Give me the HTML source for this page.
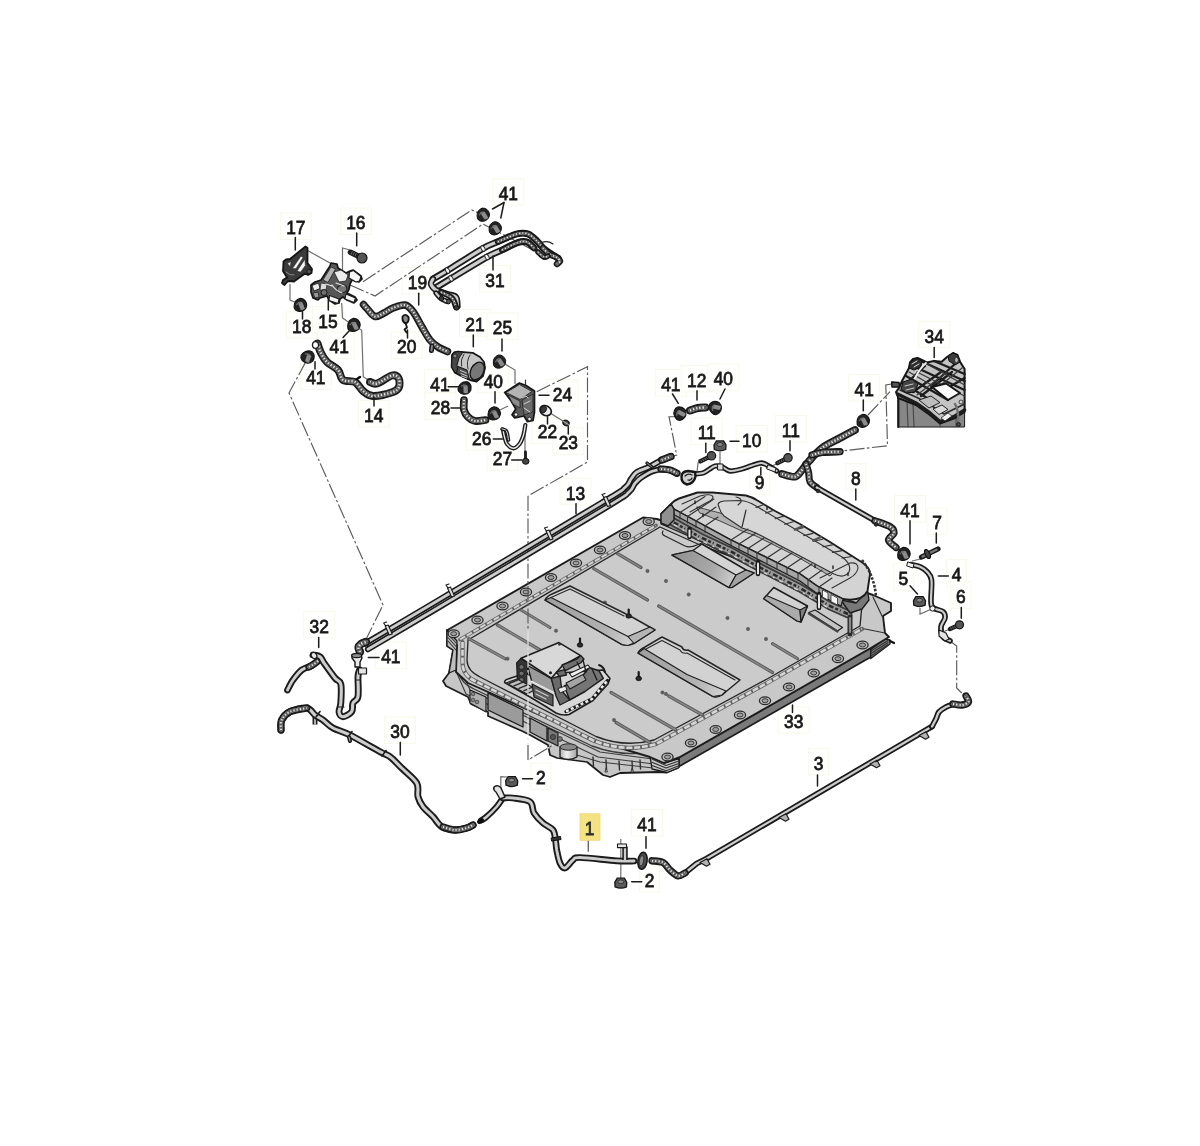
<!DOCTYPE html>
<html lang="en">
<head>
<meta charset="utf-8">
<title>Parts diagram</title>
<style>
html,body{margin:0;padding:0;background:#fff;}
body{width:1200px;height:1146px;overflow:hidden;}
svg{display:block;}
svg text{font-family:"Liberation Sans",sans-serif;font-size:19px;fill:#1a1a1a;stroke:#1a1a1a;stroke-width:0.8;text-anchor:middle;}
.ln{stroke:#222;stroke-width:1.3;fill:none;stroke-linecap:round;}
.dd{stroke:#666;stroke-width:1;fill:none;stroke-dasharray:9 2 2 2;}
.ld{stroke:#777;stroke-width:1;fill:none;}
.lb{fill:#fffffd;stroke:#f9f8ec;stroke-width:1;}
.ho{stroke:#1c1c1c;fill:none;stroke-linecap:round;stroke-linejoin:round;}
.hi{stroke:#d8d8d8;fill:none;stroke-linecap:round;stroke-linejoin:round;}
.hr{stroke:#555;fill:none;stroke-linecap:butt;stroke-linejoin:round;stroke-dasharray:1 1.6;}
</style>
</head>
<body>
<svg width="1200" height="1146" viewBox="0 0 1200 1146">
<rect width="1200" height="1146" fill="#ffffff"/>
<g filter="url(#soft)">
<!-- 05_labelbg.svg -->
<g id="labelbg">
<rect class="lb" x="492.8" y="178.8" width="31" height="26.5"/>
<rect class="lb" x="280.3" y="213.0" width="31" height="26.5"/>
<rect class="lb" x="340.3" y="208.0" width="31" height="26.5"/>
<rect class="lb" x="479.5" y="265.5" width="31" height="26.5"/>
<rect class="lb" x="402.0" y="267.6" width="31" height="26.5"/>
<rect class="lb" x="286.2" y="311.8" width="31" height="26.5"/>
<rect class="lb" x="312.5" y="306.3" width="31" height="26.5"/>
<rect class="lb" x="323.7" y="332.1" width="31" height="26.5"/>
<rect class="lb" x="391.2" y="332.1" width="31" height="26.5"/>
<rect class="lb" x="459.5" y="309.6" width="31" height="26.5"/>
<rect class="lb" x="487.0" y="313.0" width="31" height="26.5"/>
<rect class="lb" x="300.3" y="363.0" width="31" height="26.5"/>
<rect class="lb" x="358.2" y="400.5" width="31" height="26.5"/>
<rect class="lb" x="424.5" y="369.3" width="31" height="26.5"/>
<rect class="lb" x="477.8" y="366.3" width="31" height="26.5"/>
<rect class="lb" x="547.0" y="379.6" width="31" height="26.5"/>
<rect class="lb" x="425.0" y="392.8" width="31" height="26.5"/>
<rect class="lb" x="532.0" y="417.1" width="31" height="26.5"/>
<rect class="lb" x="552.8" y="427.8" width="31" height="26.5"/>
<rect class="lb" x="466.2" y="423.8" width="31" height="26.5"/>
<rect class="lb" x="487.0" y="443.8" width="31" height="26.5"/>
<rect class="lb" x="655.3" y="369.6" width="31" height="26.5"/>
<rect class="lb" x="681.2" y="365.5" width="31" height="26.5"/>
<rect class="lb" x="707.8" y="363.8" width="31" height="26.5"/>
<rect class="lb" x="848.7" y="374.6" width="31" height="26.5"/>
<rect class="lb" x="918.7" y="321.3" width="31" height="26.5"/>
<rect class="lb" x="691.2" y="418.0" width="31" height="26.5"/>
<rect class="lb" x="736.2" y="425.5" width="31" height="26.5"/>
<rect class="lb" x="775.3" y="415.5" width="31" height="26.5"/>
<rect class="lb" x="749.7" y="468.0" width="20" height="26.5"/>
<rect class="lb" x="845.8" y="463.5" width="20" height="26.5"/>
<rect class="lb" x="560.0" y="478.3" width="31" height="26.5"/>
<rect class="lb" x="894.5" y="495.5" width="31" height="26.5"/>
<rect class="lb" x="927.0" y="508.0" width="20" height="26.5"/>
<rect class="lb" x="946.7" y="559.6" width="20" height="26.5"/>
<rect class="lb" x="893.3" y="563.8" width="20" height="26.5"/>
<rect class="lb" x="950.8" y="581.8" width="20" height="26.5"/>
<rect class="lb" x="303.7" y="611.3" width="31" height="26.5"/>
<rect class="lb" x="375.3" y="642.1" width="31" height="26.5"/>
<rect class="lb" x="778.2" y="706.8" width="31" height="26.5"/>
<rect class="lb" x="384.5" y="717.1" width="31" height="26.5"/>
<rect class="lb" x="808.7" y="748.3" width="20" height="26.5"/>
<rect class="lb" x="530.8" y="763.0" width="20" height="26.5"/>
<rect class="lb" x="631.5" y="809.6" width="31" height="26.5"/>
<rect class="lb" x="639.7" y="865.5" width="20" height="26.5"/>
<rect x="580" y="813.8" width="20" height="26.5" fill="#f5e283" stroke="#efd97a" stroke-width="0.8"/>
</g>
<!-- 10_battery.svg -->
<defs>
<linearGradient id="gRamp" x1="0" y1="0" x2="1" y2="0"><stop offset="0" stop-color="#8c8c8c"/><stop offset="1" stop-color="#c4c4c4"/></linearGradient>
<linearGradient id="gRampR" x1="0" y1="0" x2="1" y2="0"><stop offset="0" stop-color="#c0c0c0"/><stop offset="1" stop-color="#8c8c8c"/></linearGradient>
<linearGradient id="gCyl" x1="0" y1="0" x2="1" y2="0"><stop offset="0" stop-color="#b0b0b0"/><stop offset="0.4" stop-color="#f0f0f0"/><stop offset="1" stop-color="#a0a0a0"/></linearGradient>
</defs>
<g id="battery">
<polygon points="447.0,630.0 447.0,646.0 453.0,650.0 449.0,673.0 443.0,681.0 446.0,686.0 468.0,697.0 471.0,704.0 488.0,712.0 488.0,716.0 522.0,731.0 530.0,735.0 548.0,745.0 550.0,755.0 557.0,758.0 587.0,762.0 603.0,775.0 610.0,777.0 620.0,773.0 658.0,772.0 667.0,772.5 678.0,768.0 678.0,758.0 663.0,756.0 600.0,700.0 470.0,640.0" fill="#c6c6c6" stroke="#1e1e1e" stroke-width="1.7550000000000001" stroke-linejoin="round" />
<path d="M455,655 L470,690 L600,752 L660,760" fill="none" stroke="#3c3c3c" stroke-width="1.08" stroke-linejoin="round" stroke-linecap="round" />
<path d="M452,662 L466,694 L598,757 L662,765" fill="none" stroke="#3c3c3c" stroke-width="1.08" stroke-linejoin="round" stroke-linecap="round" />
<path d="M560,750 L600,762 L662,769" fill="none" stroke="#3c3c3c" stroke-width="1.08" stroke-linejoin="round" stroke-linecap="round" />
<path d="M458,672 Q462,684 474,689 L592,746 Q622,757 650,752" fill="none" stroke="#3c3c3c" stroke-width="1.35" stroke-linejoin="round" stroke-linecap="round" />
<polygon points="488.0,693.0 523.0,710.0 523.0,727.0 488.0,710.0" fill="#9b9b9b" stroke="#1e1e1e" stroke-width="1.35" stroke-linejoin="round" />
<polygon points="530.0,718.0 547.0,727.0 547.0,741.0 530.0,732.0" fill="#a0a0a0" stroke="#1e1e1e" stroke-width="1.35" stroke-linejoin="round" />
<polygon points="470.0,690.0 486.0,697.0 486.0,712.0 470.0,703.0" fill="#b0b0b0" stroke="#1e1e1e" stroke-width="1.215" stroke-linejoin="round" />
<circle cx="473.0" cy="694.0" r="1.8" fill="#888" stroke="#333" stroke-width="0.7"/>
<circle cx="473.0" cy="700.0" r="1.8" fill="#888" stroke="#333" stroke-width="0.7"/>
<circle cx="477.0" cy="702.0" r="1.8" fill="#888" stroke="#333" stroke-width="0.7"/>
<polygon points="548.0,728.0 558.0,733.0 558.0,746.0 548.0,741.0" fill="#7a7a7a" stroke="#1e1e1e" stroke-width="1.215" stroke-linejoin="round" />
<circle cx="553" cy="737" r="2.6" fill="#555" stroke="#222" stroke-width="0.7"/>
<circle cx="560" cy="739" r="2.4" fill="#777" stroke="#222" stroke-width="0.7"/>
<path d="M560,747 L560,757 Q568,762 577,757 L577,747 Z" fill="url(#gCyl)" stroke="#1e1e1e" stroke-width="1.35" stroke-linejoin="round" stroke-linecap="round" />
<ellipse cx="568.5" cy="747" rx="8.5" ry="3.2" fill="#8a8a8a" stroke="#2a2a2a" stroke-width="1"/>
<line x1="593.0" y1="757.0" x2="593.5" y2="766.0" stroke="#333" stroke-width="1.4300000000000002" stroke-linecap="round" />
<line x1="606.0" y1="760.0" x2="606.5" y2="769.0" stroke="#333" stroke-width="1.4300000000000002" stroke-linecap="round" />
<line x1="619.0" y1="761.0" x2="619.5" y2="770.0" stroke="#333" stroke-width="1.4300000000000002" stroke-linecap="round" />
<line x1="632.0" y1="761.0" x2="632.5" y2="770.0" stroke="#333" stroke-width="1.4300000000000002" stroke-linecap="round" />
<line x1="640.0" y1="760.0" x2="640.5" y2="769.0" stroke="#333" stroke-width="1.4300000000000002" stroke-linecap="round" />
<path d="M606.0,768.0 l-1,4 l2,0 z" fill="#ddd" stroke="#333" stroke-width="0.945" stroke-linejoin="round" stroke-linecap="round" />
<path d="M632.0,768.0 l-1,4 l2,0 z" fill="#ddd" stroke="#333" stroke-width="0.945" stroke-linejoin="round" stroke-linecap="round" />
<polygon points="679.0,757.5 870.8,648.0 870.8,657.0 679.0,766.5" fill="#7a7a7a" stroke="#1e1e1e" stroke-width="1.7550000000000001" stroke-linejoin="round" />
<polygon points="650.0,756.0 664.0,763.0 679.0,758.5 679.0,767.5 667.0,772.5 652.0,769.0" fill="#c4c4c4" stroke="#1e1e1e" stroke-width="1.35" stroke-linejoin="round" />
<path d="M652,759.0 L666,765.5 L679,761.0" fill="none" stroke="#333" stroke-width="1.08" stroke-linejoin="round" stroke-linecap="round" />
<path d="M652,762.2 L666,768.1 L679,763.4" fill="none" stroke="#333" stroke-width="1.08" stroke-linejoin="round" stroke-linecap="round" />
<path d="M652,765.4 L666,770.7 L679,765.8" fill="none" stroke="#333" stroke-width="1.08" stroke-linejoin="round" stroke-linecap="round" />
<polygon points="870.8,649.5 885.0,639.0 890.0,640.0 890.0,644.0 870.8,658.5" fill="#7f7f7f" stroke="#1e1e1e" stroke-width="1.35" stroke-linejoin="round" />
<line x1="871.0" y1="651.0" x2="888.0" y2="640.5" stroke="#333" stroke-width="1.04" stroke-linecap="round" />
<line x1="871.0" y1="653.5" x2="888.0" y2="642.5" stroke="#333" stroke-width="1.04" stroke-linecap="round" />
<line x1="871.0" y1="656.0" x2="888.0" y2="644.5" stroke="#333" stroke-width="1.04" stroke-linecap="round" />
<path d="M890,641 l4,2" fill="none" stroke="#111" stroke-width="2.2" stroke-linejoin="round" stroke-linecap="round" />
<polygon points="447.5,630.0 643.0,517.5 657.0,519.0 760.0,556.0 873.0,595.0 891.0,603.0 891.0,611.0 883.0,616.0 885.0,633.0 889.0,637.0 870.8,648.0 679.0,757.5 664.0,763.0 650.0,757.0 600.0,742.0 468.0,683.0 456.0,672.0 457.0,645.0" fill="#c8c8c8" stroke="#1e1e1e" stroke-width="1.89" stroke-linejoin="round" />
<path d="M873,597 L882,616 M860,628 L885,633" fill="none" stroke="#333" stroke-width="1.215" stroke-linejoin="round" stroke-linecap="round" />
<polygon points="447.0,630.0 457.0,641.0 456.0,670.0 449.0,673.0 453.0,650.0 447.0,646.0" fill="#bdbdbd" stroke="#1e1e1e" stroke-width="1.35" stroke-linejoin="round" />
<line x1="448.0" y1="634.0" x2="456.0" y2="643.0" stroke="#333" stroke-width="1.04" stroke-linecap="round" />
<line x1="448.0" y1="637.5" x2="456.0" y2="646.5" stroke="#333" stroke-width="1.04" stroke-linecap="round" />
<line x1="448.0" y1="641.0" x2="456.0" y2="650.0" stroke="#333" stroke-width="1.04" stroke-linecap="round" />
<path d="M468,640 L660,527 L700,545 L862,605 L860,626 L845,634.5 L768,678.5 L654,740 Q625,748 596,736.5 L481,677.5 Q467,671 467,660 Z" fill="#cbcbcb" stroke="#262626" stroke-width="1.35" stroke-linejoin="round" stroke-linecap="round" />
<path d="M462.5,642 L462.5,663 Q462.5,675.5 476,681.5 L594,740.8 Q625,753 656,744 L768,682.5 L845,638.5 L862,629" fill="none" stroke="#626262" stroke-width="4.2" stroke-linejoin="round" stroke-linecap="round" />
<path d="M462.5,642 L462.5,663 Q462.5,675.5 476,681.5 L594,740.8 Q625,753 656,744 L768,682.5 L845,638.5 L862,629" fill="none" stroke="#d6d6d6" stroke-width="2.6" stroke-linejoin="round" stroke-linecap="butt" stroke-dasharray="6 1.8"/>
<path d="M460,639.5 L656,525.5" fill="none" stroke="#626262" stroke-width="3.6" stroke-linejoin="round" stroke-linecap="round" />
<path d="M460,639.5 L656,525.5" fill="none" stroke="#d2d2d2" stroke-width="2.0" stroke-linejoin="round" stroke-linecap="butt" stroke-dasharray="6 1.8"/>
<ellipse cx="453.7" cy="633.7" rx="5.6" ry="3.9" fill="#bcbcbc" stroke="#2c2c2c" stroke-width="1.3"/>
<ellipse cx="453.7" cy="633.7" rx="3.0" ry="2.0" fill="#a0a0a0" stroke="#3a3a3a" stroke-width="1.0"/>
<ellipse cx="477.5" cy="620.0" rx="5.6" ry="3.9" fill="#bcbcbc" stroke="#2c2c2c" stroke-width="1.3"/>
<ellipse cx="477.5" cy="620.0" rx="3.0" ry="2.0" fill="#a0a0a0" stroke="#3a3a3a" stroke-width="1.0"/>
<ellipse cx="502.5" cy="606.0" rx="5.6" ry="3.9" fill="#bcbcbc" stroke="#2c2c2c" stroke-width="1.3"/>
<ellipse cx="502.5" cy="606.0" rx="3.0" ry="2.0" fill="#a0a0a0" stroke="#3a3a3a" stroke-width="1.0"/>
<ellipse cx="526.0" cy="592.0" rx="5.6" ry="3.9" fill="#bcbcbc" stroke="#2c2c2c" stroke-width="1.3"/>
<ellipse cx="526.0" cy="592.0" rx="3.0" ry="2.0" fill="#a0a0a0" stroke="#3a3a3a" stroke-width="1.0"/>
<ellipse cx="551.0" cy="577.5" rx="5.6" ry="3.9" fill="#bcbcbc" stroke="#2c2c2c" stroke-width="1.3"/>
<ellipse cx="551.0" cy="577.5" rx="3.0" ry="2.0" fill="#a0a0a0" stroke="#3a3a3a" stroke-width="1.0"/>
<ellipse cx="576.0" cy="563.0" rx="5.6" ry="3.9" fill="#bcbcbc" stroke="#2c2c2c" stroke-width="1.3"/>
<ellipse cx="576.0" cy="563.0" rx="3.0" ry="2.0" fill="#a0a0a0" stroke="#3a3a3a" stroke-width="1.0"/>
<ellipse cx="600.0" cy="550.0" rx="5.6" ry="3.9" fill="#bcbcbc" stroke="#2c2c2c" stroke-width="1.3"/>
<ellipse cx="600.0" cy="550.0" rx="3.0" ry="2.0" fill="#a0a0a0" stroke="#3a3a3a" stroke-width="1.0"/>
<ellipse cx="625.0" cy="535.5" rx="5.6" ry="3.9" fill="#bcbcbc" stroke="#2c2c2c" stroke-width="1.3"/>
<ellipse cx="625.0" cy="535.5" rx="3.0" ry="2.0" fill="#a0a0a0" stroke="#3a3a3a" stroke-width="1.0"/>
<ellipse cx="648.7" cy="521.5" rx="5.6" ry="3.9" fill="#bcbcbc" stroke="#2c2c2c" stroke-width="1.3"/>
<ellipse cx="648.7" cy="521.5" rx="3.0" ry="2.0" fill="#a0a0a0" stroke="#3a3a3a" stroke-width="1.0"/>
<ellipse cx="667.5" cy="757.0" rx="5.6" ry="3.9" fill="#bcbcbc" stroke="#2c2c2c" stroke-width="1.3"/>
<ellipse cx="667.5" cy="757.0" rx="3.0" ry="2.0" fill="#a0a0a0" stroke="#3a3a3a" stroke-width="1.0"/>
<ellipse cx="691.0" cy="743.0" rx="5.6" ry="3.9" fill="#bcbcbc" stroke="#2c2c2c" stroke-width="1.3"/>
<ellipse cx="691.0" cy="743.0" rx="3.0" ry="2.0" fill="#a0a0a0" stroke="#3a3a3a" stroke-width="1.0"/>
<ellipse cx="715.7" cy="729.5" rx="5.6" ry="3.9" fill="#bcbcbc" stroke="#2c2c2c" stroke-width="1.3"/>
<ellipse cx="715.7" cy="729.5" rx="3.0" ry="2.0" fill="#a0a0a0" stroke="#3a3a3a" stroke-width="1.0"/>
<ellipse cx="740.0" cy="715.0" rx="5.6" ry="3.9" fill="#bcbcbc" stroke="#2c2c2c" stroke-width="1.3"/>
<ellipse cx="740.0" cy="715.0" rx="3.0" ry="2.0" fill="#a0a0a0" stroke="#3a3a3a" stroke-width="1.0"/>
<ellipse cx="765.0" cy="700.7" rx="5.6" ry="3.9" fill="#bcbcbc" stroke="#2c2c2c" stroke-width="1.3"/>
<ellipse cx="765.0" cy="700.7" rx="3.0" ry="2.0" fill="#a0a0a0" stroke="#3a3a3a" stroke-width="1.0"/>
<ellipse cx="789.0" cy="687.0" rx="5.6" ry="3.9" fill="#bcbcbc" stroke="#2c2c2c" stroke-width="1.3"/>
<ellipse cx="789.0" cy="687.0" rx="3.0" ry="2.0" fill="#a0a0a0" stroke="#3a3a3a" stroke-width="1.0"/>
<ellipse cx="813.7" cy="673.0" rx="5.6" ry="3.9" fill="#bcbcbc" stroke="#2c2c2c" stroke-width="1.3"/>
<ellipse cx="813.7" cy="673.0" rx="3.0" ry="2.0" fill="#a0a0a0" stroke="#3a3a3a" stroke-width="1.0"/>
<ellipse cx="838.0" cy="658.7" rx="5.6" ry="3.9" fill="#bcbcbc" stroke="#2c2c2c" stroke-width="1.3"/>
<ellipse cx="838.0" cy="658.7" rx="3.0" ry="2.0" fill="#a0a0a0" stroke="#3a3a3a" stroke-width="1.0"/>
<ellipse cx="862.5" cy="645.0" rx="5.6" ry="3.9" fill="#bcbcbc" stroke="#2c2c2c" stroke-width="1.3"/>
<ellipse cx="862.5" cy="645.0" rx="3.0" ry="2.0" fill="#a0a0a0" stroke="#3a3a3a" stroke-width="1.0"/>
<line x1="617.5" y1="553.7" x2="641.0" y2="567.5" stroke="#5a5a5a" stroke-width="3.2" stroke-linecap="round" />
<line x1="617.9" y1="553.9" x2="640.6" y2="567.3" stroke="#858585" stroke-width="1.56" stroke-linecap="round" />
<line x1="593.7" y1="568.7" x2="647.5" y2="600.0" stroke="#5a5a5a" stroke-width="3.2" stroke-linecap="round" />
<line x1="594.1" y1="568.9" x2="647.1" y2="599.8" stroke="#858585" stroke-width="1.56" stroke-linecap="round" />
<line x1="521.0" y1="610.0" x2="550.0" y2="627.5" stroke="#5a5a5a" stroke-width="3.2" stroke-linecap="round" />
<line x1="521.4" y1="610.2" x2="549.6" y2="627.3" stroke="#858585" stroke-width="1.56" stroke-linecap="round" />
<line x1="497.5" y1="625.0" x2="540.0" y2="650.0" stroke="#5a5a5a" stroke-width="3.2" stroke-linecap="round" />
<line x1="497.9" y1="625.2" x2="539.6" y2="649.8" stroke="#858585" stroke-width="1.56" stroke-linecap="round" />
<line x1="468.7" y1="638.7" x2="505.0" y2="658.7" stroke="#5a5a5a" stroke-width="3.2" stroke-linecap="round" />
<line x1="469.1" y1="638.9" x2="504.6" y2="658.5" stroke="#858585" stroke-width="1.56" stroke-linecap="round" />
<line x1="658.7" y1="606.0" x2="772.5" y2="672.5" stroke="#5a5a5a" stroke-width="3.2" stroke-linecap="round" />
<line x1="659.1" y1="606.2" x2="772.1" y2="672.3" stroke="#858585" stroke-width="1.56" stroke-linecap="round" />
<line x1="772.5" y1="643.7" x2="797.5" y2="658.7" stroke="#5a5a5a" stroke-width="3.2" stroke-linecap="round" />
<line x1="772.9" y1="643.9" x2="797.1" y2="658.5" stroke="#858585" stroke-width="1.56" stroke-linecap="round" />
<line x1="668.7" y1="696.0" x2="702.5" y2="715.0" stroke="#5a5a5a" stroke-width="3.2" stroke-linecap="round" />
<line x1="669.1" y1="696.2" x2="702.1" y2="714.8" stroke="#858585" stroke-width="1.56" stroke-linecap="round" />
<line x1="611.0" y1="692.5" x2="676.0" y2="730.0" stroke="#5a5a5a" stroke-width="3.2" stroke-linecap="round" />
<line x1="611.4" y1="692.7" x2="675.6" y2="729.8" stroke="#858585" stroke-width="1.56" stroke-linecap="round" />
<line x1="616.0" y1="722.5" x2="650.0" y2="742.5" stroke="#5a5a5a" stroke-width="3.2" stroke-linecap="round" />
<line x1="616.4" y1="722.7" x2="649.6" y2="742.3" stroke="#858585" stroke-width="1.56" stroke-linecap="round" />
<circle cx="647.5" cy="571.0" r="1.7" fill="#5e5e5e" stroke="#555" stroke-width="0.5"/>
<circle cx="666.0" cy="581.0" r="1.7" fill="#5e5e5e" stroke="#555" stroke-width="0.5"/>
<circle cx="688.7" cy="594.5" r="1.7" fill="#5e5e5e" stroke="#555" stroke-width="0.5"/>
<circle cx="605.0" cy="602.5" r="1.7" fill="#5e5e5e" stroke="#555" stroke-width="0.5"/>
<circle cx="556.0" cy="630.7" r="1.7" fill="#5e5e5e" stroke="#555" stroke-width="0.5"/>
<circle cx="507.5" cy="658.7" r="1.7" fill="#5e5e5e" stroke="#555" stroke-width="0.5"/>
<circle cx="727.5" cy="618.0" r="1.7" fill="#5e5e5e" stroke="#555" stroke-width="0.5"/>
<circle cx="748.0" cy="629.0" r="1.7" fill="#5e5e5e" stroke="#555" stroke-width="0.5"/>
<circle cx="766.0" cy="639.0" r="1.7" fill="#5e5e5e" stroke="#555" stroke-width="0.5"/>
<circle cx="662.5" cy="692.5" r="1.7" fill="#5e5e5e" stroke="#555" stroke-width="0.5"/>
<circle cx="614.0" cy="720.0" r="1.7" fill="#5e5e5e" stroke="#555" stroke-width="0.5"/>
<circle cx="666.0" cy="694.0" r="1.7" fill="#5e5e5e" stroke="#555" stroke-width="0.5"/>
<linearGradient id="gA" gradientUnits="userSpaceOnUse" x1="675" y1="556" x2="735" y2="582"><stop offset="0" stop-color="#929292"/><stop offset="0.6" stop-color="#a8a8a8"/><stop offset="1" stop-color="#cfcfcf"/></linearGradient>
<linearGradient id="gC" gradientUnits="userSpaceOnUse" x1="548" y1="600" x2="630" y2="642"><stop offset="0" stop-color="#9e9e9e"/><stop offset="0.7" stop-color="#b2b2b2"/><stop offset="1" stop-color="#d0d0d0"/></linearGradient>
<linearGradient id="gD" gradientUnits="userSpaceOnUse" x1="640" y1="652" x2="720" y2="695"><stop offset="0" stop-color="#9e9e9e"/><stop offset="0.7" stop-color="#b2b2b2"/><stop offset="1" stop-color="#d0d0d0"/></linearGradient>
<path d="M663,531 Q661,534 665,536 L685,546 Q690,548 697,545 L702,543" fill="none" stroke="#262626" stroke-width="1.215" stroke-linejoin="round" stroke-linecap="round" />
<path d="M545,600 Q547,596 552,594 L570,586 L626,614 Q628,618 632,617 L655,630 L634,643.5 Q628,646 622,644.5 Z" fill="#d2d2d2" stroke="#262626" stroke-width="1.4850000000000003" stroke-linejoin="round" stroke-linecap="round" />
<polygon points="545.0,600.0 551.0,597.5 628.0,636.5 636.0,642.0 628.0,645.5 622.0,644.5" fill="url(#gC)" stroke="#1e1e1e" stroke-width="1.215" stroke-linejoin="round" />
<polygon points="628.0,636.5 650.0,627.0 655.0,630.0 634.0,643.5" fill="#b4b4b4" stroke="#1e1e1e" stroke-width="1.08" stroke-linejoin="round" />
<path d="M551,597.5 L570,589 L624,616" fill="none" stroke="#262626" stroke-width="1.08" stroke-linejoin="round" stroke-linecap="round" />
<path d="M638,653 Q640,649 645,647 L662,637 L682,647 Q683,651 688,650 L740,680 L722,695 Q718,698 713,696.5 Z" fill="#d2d2d2" stroke="#262626" stroke-width="1.4850000000000003" stroke-linejoin="round" stroke-linecap="round" />
<polygon points="638.0,653.0 644.0,648.5 687.0,674.5 726.0,691.0 722.0,695.0 713.0,696.5" fill="url(#gD)" stroke="#1e1e1e" stroke-width="1.215" stroke-linejoin="round" />
<path d="M646,649 L662,640.5 L680,650 Q682,654 687,653 L735,680" fill="none" stroke="#262626" stroke-width="1.08" stroke-linejoin="round" stroke-linecap="round" />
<polygon points="672.0,555.0 693.0,550.5 702.0,544.0 746.0,570.0 754.0,573.0 732.0,587.5 729.0,587.5" fill="#d4d4d4" stroke="#1e1e1e" stroke-width="1.4850000000000003" stroke-linejoin="round" />
<polygon points="672.0,555.0 693.0,550.5 736.0,575.0 729.0,587.5" fill="url(#gA)" stroke="#1e1e1e" stroke-width="1.215" stroke-linejoin="round" />
<polygon points="736.0,575.0 746.0,570.0 754.0,573.0 732.0,587.5 729.0,587.5" fill="#a2a2a2" stroke="#1e1e1e" stroke-width="1.215" stroke-linejoin="round" />
<polygon points="763.7,598.7 773.7,587.5 807.5,606.0 801.0,622.0 797.0,621.0" fill="#d2d2d2" stroke="#1e1e1e" stroke-width="1.4850000000000003" stroke-linejoin="round" />
<polygon points="763.7,598.7 766.5,595.5 800.0,610.0 801.0,622.0 797.0,621.0" fill="#ababab" stroke="#1e1e1e" stroke-width="1.215" stroke-linejoin="round" />
<polygon points="800.0,610.0 807.5,606.0 801.0,622.0" fill="#808080" stroke="#1e1e1e" stroke-width="1.215" stroke-linejoin="round" />
<polygon points="808.7,612.5 815.0,610.0 842.5,627.5 837.5,631.0" fill="#c4c4c4" stroke="#1e1e1e" stroke-width="1.215" stroke-linejoin="round" />
<path d="M808.7,613.5 L837.5,631.5" fill="none" stroke="#444" stroke-width="2.16" stroke-linejoin="round" stroke-linecap="round" />
<path d="M628.7,615.5 l0,-6" fill="none" stroke="#1a1a1a" stroke-width="2.2" stroke-linejoin="round" stroke-linecap="round" />
<ellipse cx="628.7" cy="616.0" rx="2.8" ry="2.2" fill="#2a2a2a" stroke="#111" stroke-width="0.8"/>
<path d="M580.0,644.5 l0,-6" fill="none" stroke="#1a1a1a" stroke-width="2.2" stroke-linejoin="round" stroke-linecap="round" />
<ellipse cx="580.0" cy="645.0" rx="2.8" ry="2.2" fill="#2a2a2a" stroke="#111" stroke-width="0.8"/>
<path d="M638.7,678.0 l0,-6" fill="none" stroke="#1a1a1a" stroke-width="2.2" stroke-linejoin="round" stroke-linecap="round" />
<ellipse cx="638.7" cy="678.5" rx="2.8" ry="2.2" fill="#2a2a2a" stroke="#111" stroke-width="0.8"/>
<path d="M504.7,682.7 Q504,680 508,679 L517,676 L603,670 L610,678.5 L608,684 L593,700.5 L569,714.5 Q562,716 556,713 L545,706 L530,697 Z" fill="#d8d8d8" stroke="#1e1e1e" stroke-width="1.4850000000000003" stroke-linejoin="round" stroke-linecap="round" />
<path d="M566,711.5 L592,699 L607.5,680.5" fill="none" stroke="#1a1a1a" stroke-width="3.4" stroke-linejoin="round" stroke-linecap="round" />
<path d="M566,711.5 L592,699 L607.5,680.5" fill="none" stroke="#f0f0f0" stroke-width="2.43" stroke-linejoin="round" stroke-linecap="butt" stroke-dasharray="3 2.4"/>
<polygon points="516.7,663.0 521.0,658.5 527.5,662.0 527.5,687.0 517.7,686.0" fill="#343434" stroke="#1e1e1e" stroke-width="1.35" stroke-linejoin="round" />
<ellipse cx="521.5" cy="667.0" rx="2.6" ry="2.4" fill="#6e6e6e" stroke="#111" stroke-width="0.8"/>
<ellipse cx="521.5" cy="673.5" rx="2.6" ry="2.4" fill="#6e6e6e" stroke="#111" stroke-width="0.8"/>
<ellipse cx="521.5" cy="680.0" rx="2.6" ry="2.4" fill="#6e6e6e" stroke="#111" stroke-width="0.8"/>
<polygon points="506.0,683.0 517.0,679.0 536.0,689.0 527.0,694.0" fill="#c0c0c0" stroke="#1e1e1e" stroke-width="1.215" stroke-linejoin="round" />
<line x1="509.0" y1="683.5" x2="517.5" y2="680.0" stroke="#2a2a2a" stroke-width="1.4300000000000002" stroke-linecap="round" />
<line x1="514.0" y1="685.9" x2="522.5" y2="682.4" stroke="#2a2a2a" stroke-width="1.4300000000000002" stroke-linecap="round" />
<line x1="519.0" y1="688.3" x2="527.5" y2="684.8" stroke="#2a2a2a" stroke-width="1.4300000000000002" stroke-linecap="round" />
<line x1="524.0" y1="690.7" x2="532.5" y2="687.2" stroke="#2a2a2a" stroke-width="1.4300000000000002" stroke-linecap="round" />
<polygon points="527.5,665.5 551.3,678.3 555.7,693.5 531.8,681.5" fill="#9a9a9a" stroke="#1e1e1e" stroke-width="1.35" stroke-linejoin="round" />
<path d="M531.8,681.5 L555.7,693.5" fill="none" stroke="#e8e8e8" stroke-width="1.7550000000000001" stroke-linejoin="round" stroke-linecap="round" />
<polygon points="532.0,684.0 553.0,695.0 553.0,706.0 534.0,697.0" fill="#5c5c5c" stroke="#1e1e1e" stroke-width="1.215" stroke-linejoin="round" />
<path d="M536,690 l12,6 M536,694 l10,5" fill="none" stroke="#c8c8c8" stroke-width="1.35" stroke-linejoin="round" stroke-linecap="round" />
<polygon points="521.0,658.3 559.0,642.6 580.6,655.6 562.0,666.0 551.3,678.3" fill="#d8d8d8" stroke="#1e1e1e" stroke-width="1.62" stroke-linejoin="round" />
<circle cx="550.5" cy="672.8" r="1.5" fill="#1a1a1a"/>
<circle cx="559.5" cy="644.3" r="1.4" fill="#333"/>
<circle cx="530.5" cy="661" r="1.3" fill="#333"/>
<polygon points="564.3,686.0 580.6,678.3 589.2,667.5 599.0,670.7 603.3,678.3 585.0,691.5 569.7,700.0" fill="#747474" stroke="#1e1e1e" stroke-width="1.4850000000000003" stroke-linejoin="round" />
<polygon points="551.3,678.3 560.0,676.0 562.0,691.0 569.7,700.0 560.0,705.0 556.0,696.0" fill="#6a6a6a" stroke="#1e1e1e" stroke-width="1.35" stroke-linejoin="round" />
<polygon points="562.0,665.0 577.3,658.8 580.6,655.6 584.0,659.0 580.6,663.0 565.4,670.7" fill="#707070" stroke="#1e1e1e" stroke-width="1.35" stroke-linejoin="round" />
<polygon points="556.7,671.8 564.3,669.7 566.5,675.0 559.0,676.5" fill="#6c6c6c" stroke="#1e1e1e" stroke-width="1.35" stroke-linejoin="round" />
<polygon points="569.5,673.5 588.0,665.0 590.0,667.5 572.0,677.0" fill="#f2f2f2" stroke="#1e1e1e" stroke-width="1.08" stroke-linejoin="round" />
<polygon points="566.0,683.0 583.0,674.5 586.0,680.0 570.0,689.0" fill="#a4a4a4" stroke="#1e1e1e" stroke-width="1.08" stroke-linejoin="round" />
<polygon points="558.0,688.5 565.5,686.0 567.0,690.0 560.0,693.0" fill="#e8e8e8" stroke="#1e1e1e" stroke-width="0.945" stroke-linejoin="round" />
<path d="M583,660 L586,672 M592,669 L597,680 M577,662 L580,668" fill="none" stroke="#1e1e1e" stroke-width="1.35" stroke-linejoin="round" stroke-linecap="round" />
<path d="M599,665 q5,2 6,7" fill="none" stroke="#1e1e1e" stroke-width="1.89" stroke-linejoin="round" stroke-linecap="round" />
<polygon points="661.0,514.0 673.7,509.0 730.0,539.5 800.0,574.0 843.0,599.0 852.0,616.0 800.0,592.0 757.0,570.0 700.0,541.0 661.0,524.0" fill="#8c8c8c" stroke="#1e1e1e" stroke-width="1.08" stroke-linejoin="round" />
<path d="M666,518 L700,537 L730,551 L757,566 L800,588 L830,606 L848,614" fill="none" stroke="#3a3a3a" stroke-width="9" stroke-linejoin="round" stroke-linecap="round" />
<path d="M666,518 L700,537 L730,551 L757,566 L800,588 L830,606 L848,614" fill="none" stroke="#9a9a9a" stroke-width="5.5" stroke-linejoin="round" stroke-linecap="round" />
<path d="M666,518 L700,537 L730,551 L757,566 L800,588 L830,606 L848,614" fill="none" stroke="#2a2a2a" stroke-width="2.5" stroke-linejoin="round" stroke-linecap="butt" stroke-dasharray="3 2 1 3 5 2"/>
<path d="M668,521 L700,540 L730,554 L757,569 L800,591 L830,609" fill="none" stroke="#d0d0d0" stroke-width="1.35" stroke-linejoin="round" stroke-linecap="butt" stroke-dasharray="2 5 4 6"/>
<polygon points="841.0,600.0 856.0,603.0 867.5,591.0 869.0,600.0 862.0,609.0 850.0,613.0" fill="#787878" stroke="#1e1e1e" stroke-width="1.35" stroke-linejoin="round" />
<path d="M661,514 L671,504 Q675,500 679,498.5 L697.5,492.5 L712.5,492.5 L746,495.5 Q752,497 757.5,500.5 L775,511 L800,524 L830,542 L863,563 Q870,568 870,574 L867.5,591 Q862,602 843,599 L817,586 L800,574 L730,539.5 L673.7,509 Z" fill="#d3d3d3" stroke="#1e1e1e" stroke-width="1.89" stroke-linejoin="round" stroke-linecap="round" />
<polygon points="673.7,509.0 730.0,539.5 800.0,574.0 817.0,586.0 843.0,599.0 841.0,606.0 817.0,593.5 800.0,581.0 730.0,545.0 673.7,514.5" fill="#a6a6a6" stroke="#1e1e1e" stroke-width="1.215" stroke-linejoin="round" />
<path d="M697,507 L720,513 L745,524 L760,528 L800,548 L836,570 L830,576 L796,556 L756,536 L742,531 L720,521 L700,513 Z" fill="#b0b0b0" stroke="#3c3c3c" stroke-width="0.945" stroke-linejoin="round" stroke-linecap="round" />
<path d="M719,507 Q716,502 724,501 L740,500.5 Q748,501 756,506 L842,557 Q852,564 849,572 Q844,579 834,574 L800,556 L760,535 Q750,530 742,528 L724,516 Q720,512 719,507 Z" fill="#d6d6d6" stroke="#333" stroke-width="1.215" stroke-linejoin="round" stroke-linecap="round" />
<path d="M746,510 L742,527" fill="none" stroke="#333" stroke-width="1.215" stroke-linejoin="round" stroke-linecap="round" />
<path d="M682,504 L700,496 Q712,493 713,497 Q713,500 706,503 L690,512" fill="none" stroke="#333" stroke-width="1.08" stroke-linejoin="round" stroke-linecap="round" />
<path d="M736,497 Q742,498 741,502 L738,505" fill="none" stroke="#333" stroke-width="1.08" stroke-linejoin="round" stroke-linecap="round" />
<path d="M820,578 L850,563 Q858,562 858,568 Q857,574 850,578 L832,588" fill="none" stroke="#333" stroke-width="1.08" stroke-linejoin="round" stroke-linecap="round" />
<line x1="680.0" y1="512.5" x2="705.0" y2="496.5" stroke="#333" stroke-width="1.1700000000000002" stroke-linecap="round" />
<line x1="687.5" y1="516.5" x2="714.0" y2="499.0" stroke="#333" stroke-width="1.1700000000000002" stroke-linecap="round" />
<line x1="696.0" y1="521.0" x2="716.0" y2="507.0" stroke="#333" stroke-width="1.1700000000000002" stroke-linecap="round" />
<line x1="705.0" y1="526.0" x2="718.0" y2="517.0" stroke="#333" stroke-width="1.1700000000000002" stroke-linecap="round" />
<line x1="731.0" y1="540.0" x2="748.0" y2="529.0" stroke="#333" stroke-width="1.1700000000000002" stroke-linecap="round" />
<line x1="739.0" y1="544.0" x2="756.0" y2="533.0" stroke="#333" stroke-width="1.1700000000000002" stroke-linecap="round" />
<line x1="748.0" y1="548.5" x2="764.0" y2="538.0" stroke="#333" stroke-width="1.1700000000000002" stroke-linecap="round" />
<line x1="757.0" y1="553.0" x2="772.0" y2="543.0" stroke="#333" stroke-width="1.1700000000000002" stroke-linecap="round" />
<line x1="767.0" y1="558.0" x2="782.0" y2="548.0" stroke="#333" stroke-width="1.1700000000000002" stroke-linecap="round" />
<line x1="777.0" y1="563.0" x2="792.0" y2="553.0" stroke="#333" stroke-width="1.1700000000000002" stroke-linecap="round" />
<line x1="787.0" y1="568.0" x2="802.0" y2="558.0" stroke="#333" stroke-width="1.1700000000000002" stroke-linecap="round" />
<line x1="798.0" y1="573.5" x2="812.0" y2="564.0" stroke="#333" stroke-width="1.1700000000000002" stroke-linecap="round" />
<line x1="808.0" y1="580.0" x2="822.0" y2="570.0" stroke="#333" stroke-width="1.1700000000000002" stroke-linecap="round" />
<line x1="819.0" y1="587.0" x2="832.0" y2="578.0" stroke="#333" stroke-width="1.1700000000000002" stroke-linecap="round" />
<line x1="756.0" y1="507.5" x2="764.0" y2="504.5" stroke="#333" stroke-width="1.1700000000000002" stroke-linecap="round" />
<line x1="765.6" y1="513.1" x2="773.8" y2="510.3" stroke="#333" stroke-width="1.1700000000000002" stroke-linecap="round" />
<line x1="775.1" y1="518.7" x2="783.6" y2="516.1" stroke="#333" stroke-width="1.1700000000000002" stroke-linecap="round" />
<line x1="784.7" y1="524.3" x2="793.3" y2="521.8" stroke="#333" stroke-width="1.1700000000000002" stroke-linecap="round" />
<line x1="794.2" y1="529.9" x2="803.1" y2="527.6" stroke="#333" stroke-width="1.1700000000000002" stroke-linecap="round" />
<line x1="803.8" y1="535.6" x2="812.9" y2="533.4" stroke="#333" stroke-width="1.1700000000000002" stroke-linecap="round" />
<line x1="813.3" y1="541.2" x2="822.7" y2="539.2" stroke="#333" stroke-width="1.1700000000000002" stroke-linecap="round" />
<line x1="822.9" y1="546.8" x2="832.4" y2="544.9" stroke="#333" stroke-width="1.1700000000000002" stroke-linecap="round" />
<line x1="832.4" y1="552.4" x2="842.2" y2="550.7" stroke="#333" stroke-width="1.1700000000000002" stroke-linecap="round" />
<line x1="842.0" y1="558.0" x2="852.0" y2="556.5" stroke="#333" stroke-width="1.1700000000000002" stroke-linecap="round" />
<line x1="795.0" y1="529.5" x2="803.0" y2="526.0" stroke="#555" stroke-width="2.0" stroke-linecap="round" />
<line x1="813.0" y1="540.5" x2="821.0" y2="537.0" stroke="#555" stroke-width="2.0" stroke-linecap="round" />
<line x1="680.0" y1="512.5" x2="680.0" y2="519.0" stroke="#333" stroke-width="1.04" stroke-linecap="round" />
<line x1="687.5" y1="516.5" x2="687.5" y2="523.0" stroke="#333" stroke-width="1.04" stroke-linecap="round" />
<line x1="696.0" y1="521.0" x2="696.0" y2="527.5" stroke="#333" stroke-width="1.04" stroke-linecap="round" />
<line x1="705.0" y1="526.0" x2="705.0" y2="532.5" stroke="#333" stroke-width="1.04" stroke-linecap="round" />
<line x1="731.0" y1="540.0" x2="731.0" y2="546.5" stroke="#333" stroke-width="1.04" stroke-linecap="round" />
<line x1="739.0" y1="544.0" x2="739.0" y2="550.5" stroke="#333" stroke-width="1.04" stroke-linecap="round" />
<line x1="748.0" y1="548.5" x2="748.0" y2="555.0" stroke="#333" stroke-width="1.04" stroke-linecap="round" />
<line x1="757.0" y1="553.0" x2="757.0" y2="559.5" stroke="#333" stroke-width="1.04" stroke-linecap="round" />
<line x1="767.0" y1="558.0" x2="767.0" y2="564.5" stroke="#333" stroke-width="1.04" stroke-linecap="round" />
<line x1="777.0" y1="563.0" x2="777.0" y2="569.5" stroke="#333" stroke-width="1.04" stroke-linecap="round" />
<line x1="787.0" y1="568.0" x2="787.0" y2="574.5" stroke="#333" stroke-width="1.04" stroke-linecap="round" />
<line x1="798.0" y1="573.5" x2="798.0" y2="580.0" stroke="#333" stroke-width="1.04" stroke-linecap="round" />
<line x1="808.0" y1="580.0" x2="808.0" y2="586.5" stroke="#333" stroke-width="1.04" stroke-linecap="round" />
<line x1="819.0" y1="587.0" x2="819.0" y2="593.5" stroke="#333" stroke-width="1.04" stroke-linecap="round" />
<line x1="695.0" y1="501.0" x2="695.0" y2="503.5" stroke="#222" stroke-width="1.4300000000000002" stroke-linecap="round" />
<line x1="703.0" y1="514.0" x2="703.0" y2="516.5" stroke="#222" stroke-width="1.4300000000000002" stroke-linecap="round" />
<line x1="767.0" y1="507.0" x2="767.0" y2="509.5" stroke="#222" stroke-width="1.4300000000000002" stroke-linecap="round" />
<line x1="815.0" y1="565.0" x2="815.0" y2="567.5" stroke="#222" stroke-width="1.4300000000000002" stroke-linecap="round" />
<line x1="833.0" y1="566.0" x2="833.0" y2="568.5" stroke="#222" stroke-width="1.4300000000000002" stroke-linecap="round" />
<line x1="848.0" y1="573.0" x2="848.0" y2="575.5" stroke="#222" stroke-width="1.4300000000000002" stroke-linecap="round" />
<polygon points="822.5,590.0 828.0,593.0 828.0,600.0 822.5,597.0" fill="#f6f6f6" stroke="#333" stroke-width="0.81" stroke-linejoin="round" />
<polygon points="831.0,594.5 837.5,598.0 837.5,605.0 831.0,601.5" fill="#f6f6f6" stroke="#333" stroke-width="0.81" stroke-linejoin="round" />
<path d="M689.5,529.0 l0,8" fill="none" stroke="#1e1e1e" stroke-width="4.6" stroke-linejoin="round" stroke-linecap="round" />
<path d="M689.5,530.5 l0,6" fill="none" stroke="#e6e6e6" stroke-width="2.0" stroke-linejoin="round" stroke-linecap="round" />
<path d="M758.0,562.0 l0,12" fill="none" stroke="#1e1e1e" stroke-width="4.6" stroke-linejoin="round" stroke-linecap="round" />
<path d="M758.0,563.5 l0,10" fill="none" stroke="#e6e6e6" stroke-width="2.0" stroke-linejoin="round" stroke-linecap="round" />
<path d="M819.0,594.0 l0,14" fill="none" stroke="#1e1e1e" stroke-width="4.6" stroke-linejoin="round" stroke-linecap="round" />
<path d="M819.0,595.5 l0,12" fill="none" stroke="#e6e6e6" stroke-width="2.0" stroke-linejoin="round" stroke-linecap="round" />
<path d="M850,617 l0,17" fill="none" stroke="#2a2a2a" stroke-width="5.0" stroke-linejoin="round" stroke-linecap="round" />
<path d="M850,618 l0,14" fill="none" stroke="#8a8a8a" stroke-width="2.2" stroke-linejoin="round" stroke-linecap="round" />
<polygon points="661.0,514.0 671.0,504.0 674.0,509.0 674.0,520.0 668.0,526.0 661.0,523.0" fill="#909090" stroke="#1e1e1e" stroke-width="1.4850000000000003" stroke-linejoin="round" />
<path d="M862,560 Q874,575 876,596" fill="none" stroke="#333" stroke-width="2.6" stroke-linejoin="round" stroke-linecap="butt" stroke-dasharray="2.5 1.5"/>
</g>
<!-- 30_hoses.svg -->
<g id="hoses">
<path d="M363.0,281.7 L471.7,210.0 L486.0,216.0" fill="none" stroke="#5a5a5a" stroke-width="1.15" stroke-dasharray="15 2.5 2.5 2.5"/>
<path d="M350.0,285.0 L375.0,296.0 L483.0,224.0 L533.0,250.0" fill="none" stroke="#5a5a5a" stroke-width="1.15" stroke-dasharray="15 2.5 2.5 2.5"/>
<path d="M305.8,361.7 L289.0,393.0 L383.0,605.0 L366.7,638.0" fill="none" stroke="#5a5a5a" stroke-width="1.15" stroke-dasharray="15 2.5 2.5 2.5"/>
<path d="M536.7,391.7 L587.5,366.7 L587.5,462.0 L528.0,496.0" fill="none" stroke="#5a5a5a" stroke-width="1.15" stroke-dasharray="15 2.5 2.5 2.5"/>
<path d="M528.0,496.0 L528.0,630.0" fill="none" stroke="#5a5a5a" stroke-width="1.15" stroke-dasharray="15 2.5 2.5 2.5"/>
<path d="M528.0,630.0 L528.0,760.0 L553.0,745.0" fill="none" stroke="#e6e6e6" stroke-width="1.2" stroke-dasharray="15 2.5 2.5 2.5"/>
<path d="M528.0,745.0 L528.0,760.0 L553.0,745.0" fill="none" stroke="#5a5a5a" stroke-width="1.15" stroke-dasharray="15 2.5 2.5 2.5"/>
<path d="M675.0,416.7 L669.0,416.7 L676.7,455.0 L670.0,456.7" fill="none" stroke="#5a5a5a" stroke-width="1.15" stroke-dasharray="15 2.5 2.5 2.5"/>
<path d="M868.0,415.0 L890.0,391.7" fill="none" stroke="#5a5a5a" stroke-width="1.15" stroke-dasharray="15 2.5 2.5 2.5"/>
<path d="M891.7,384.0 L885.8,385.0 L887.5,445.8 L843.0,450.8" fill="none" stroke="#5a5a5a" stroke-width="1.15" stroke-dasharray="15 2.5 2.5 2.5"/>
<path d="M950.0,641.0 L956.7,646.0 L956.7,688.0 L961.7,693.0" fill="none" stroke="#5a5a5a" stroke-width="1.15" stroke-dasharray="15 2.5 2.5 2.5"/>
<path d="M306.7,250.0 L330.0,263.0" fill="none" stroke="#6e6e6e" stroke-width="1.2"/>
<path d="M290.0,284.0 L290.0,300.0 L296.0,302.5" fill="none" stroke="#6e6e6e" stroke-width="1.2"/>
<path d="M350.0,250.0 L342.5,248.0 L342.5,270.0" fill="none" stroke="#6e6e6e" stroke-width="1.2"/>
<path d="M341.7,303.0 L342.5,318.0 L348.0,321.7" fill="none" stroke="#6e6e6e" stroke-width="1.2"/>
<path d="M358.0,328.0 L361.7,330.0 L363.3,376.7 L368.0,380.0" fill="none" stroke="#6e6e6e" stroke-width="1.2"/>
<path d="M505.0,364.0 L515.0,370.0 L515.0,384.0" fill="none" stroke="#6e6e6e" stroke-width="1.2"/>
<path d="M500.0,410.0 L508.0,406.0" fill="none" stroke="#6e6e6e" stroke-width="1.2"/>
<path d="M550.0,413.0 L563.0,421.0" fill="none" stroke="#6e6e6e" stroke-width="1.2"/>
<path d="M525.0,432.0 L525.0,455.0" fill="none" stroke="#6e6e6e" stroke-width="1.2"/>
<path d="M720.0,452.0 L720.0,466.0" fill="none" stroke="#6e6e6e" stroke-width="1.2"/>
<path d="M711.0,458.0 L698.0,463.0 L697.0,472.0" fill="none" stroke="#6e6e6e" stroke-width="1.2"/>
<path d="M783.0,461.0 L772.0,466.0" fill="none" stroke="#6e6e6e" stroke-width="1.2"/>
<path d="M920.0,608.0 L920.0,614.0 L931.7,609.0" fill="none" stroke="#6e6e6e" stroke-width="1.2"/>
<path d="M925.0,558.0 L912.0,561.0" fill="none" stroke="#6e6e6e" stroke-width="1.2"/>
<path d="M952.0,628.0 L943.0,632.0" fill="none" stroke="#6e6e6e" stroke-width="1.2"/>
<path d="M507.0,777.0 L500.8,776.7 L500.8,791.7" fill="none" stroke="#6e6e6e" stroke-width="1.2"/>
<path d="M620.8,839.0 L620.8,878.0" fill="none" stroke="#6e6e6e" stroke-width="1.2"/>
<path d="M437.0,287.0 C439.3,285.6 442.7,283.5 451.0,278.5 C459.3,273.5 478.5,261.8 487.0,257.0 C495.5,252.2 496.8,252.4 502.0,250.0 C507.2,247.6 513.8,243.8 518.0,242.5 C522.2,241.2 524.3,241.1 527.0,242.0 C529.7,242.9 532.8,247.0 534.0,248.0" fill="none" stroke="#1a1a1a" stroke-width="6.8" stroke-linecap="round" stroke-linejoin="round"/>
<path d="M437.0,287.0 C439.3,285.6 442.7,283.5 451.0,278.5 C459.3,273.5 478.5,261.8 487.0,257.0 C495.5,252.2 496.8,252.4 502.0,250.0 C507.2,247.6 513.8,243.8 518.0,242.5 C522.2,241.2 524.3,241.1 527.0,242.0 C529.7,242.9 532.8,247.0 534.0,248.0" fill="none" stroke="#cdcdcd" stroke-width="3.2" stroke-linecap="round" stroke-linejoin="round"/>
<path d="M433.0,279.0 C435.4,277.6 439.2,275.6 447.5,270.5 C455.8,265.4 474.6,253.3 483.0,248.5 C491.4,243.7 492.4,244.1 498.0,241.7 C503.6,239.3 511.7,235.3 516.7,234.0 C521.7,232.7 524.6,232.8 528.0,234.0 C531.4,235.2 534.5,238.7 537.0,241.0 C539.5,243.3 540.8,246.0 543.0,248.0 C545.2,250.0 547.5,251.3 550.0,253.0 C552.5,254.7 556.7,257.2 558.0,258.0" fill="none" stroke="#1a1a1a" stroke-width="6.8" stroke-linecap="round" stroke-linejoin="round"/>
<path d="M433.0,279.0 C435.4,277.6 439.2,275.6 447.5,270.5 C455.8,265.4 474.6,253.3 483.0,248.5 C491.4,243.7 492.4,244.1 498.0,241.7 C503.6,239.3 511.7,235.3 516.7,234.0 C521.7,232.7 524.6,232.8 528.0,234.0 C531.4,235.2 534.5,238.7 537.0,241.0 C539.5,243.3 540.8,246.0 543.0,248.0 C545.2,250.0 547.5,251.3 550.0,253.0 C552.5,254.7 556.7,257.2 558.0,258.0" fill="none" stroke="#cdcdcd" stroke-width="3.2" stroke-linecap="round" stroke-linejoin="round"/>
<path d="M498.0,241.7 C501.1,240.4 511.7,235.3 516.7,234.0 C521.7,232.7 524.6,232.8 528.0,234.0 C531.4,235.2 534.5,238.7 537.0,241.0 C539.5,243.3 542.0,246.8 543.0,248.0" fill="none" stroke="#1a1a1a" stroke-width="6.3" stroke-linecap="round" stroke-linejoin="round"/>
<path d="M498.0,241.7 C501.1,240.4 511.7,235.3 516.7,234.0 C521.7,232.7 524.6,232.8 528.0,234.0 C531.4,235.2 534.5,238.7 537.0,241.0 C539.5,243.3 542.0,246.8 543.0,248.0" fill="none" stroke="#cdcdcd" stroke-width="2.5" stroke-linecap="round" stroke-linejoin="round"/>
<path d="M498.0,241.7 C501.1,240.4 511.7,235.3 516.7,234.0 C521.7,232.7 524.6,232.8 528.0,234.0 C531.4,235.2 534.5,238.7 537.0,241.0 C539.5,243.3 542.0,246.8 543.0,248.0" fill="none" stroke="#5a5a5a" stroke-width="2.5" stroke-linecap="round" stroke-linejoin="round"/>
<path d="M498.0,241.7 C501.1,240.4 511.7,235.3 516.7,234.0 C521.7,232.7 524.6,232.8 528.0,234.0 C531.4,235.2 534.5,238.7 537.0,241.0 C539.5,243.3 542.0,246.8 543.0,248.0" fill="none" stroke="#e4e4e4" stroke-width="1.4" stroke-linecap="butt" stroke-dasharray="1.3 1.9"/>
<path d="M502.0,250.0 C504.7,248.8 513.8,243.8 518.0,242.5 C522.2,241.2 524.3,241.1 527.0,242.0 C529.7,242.9 532.8,247.0 534.0,248.0" fill="none" stroke="#1a1a1a" stroke-width="6.1" stroke-linecap="round" stroke-linejoin="round"/>
<path d="M502.0,250.0 C504.7,248.8 513.8,243.8 518.0,242.5 C522.2,241.2 524.3,241.1 527.0,242.0 C529.7,242.9 532.8,247.0 534.0,248.0" fill="none" stroke="#cdcdcd" stroke-width="2.3" stroke-linecap="round" stroke-linejoin="round"/>
<path d="M502.0,250.0 C504.7,248.8 513.8,243.8 518.0,242.5 C522.2,241.2 524.3,241.1 527.0,242.0 C529.7,242.9 532.8,247.0 534.0,248.0" fill="none" stroke="#5a5a5a" stroke-width="2.3" stroke-linecap="round" stroke-linejoin="round"/>
<path d="M502.0,250.0 C504.7,248.8 513.8,243.8 518.0,242.5 C522.2,241.2 524.3,241.1 527.0,242.0 C529.7,242.9 532.8,247.0 534.0,248.0" fill="none" stroke="#e4e4e4" stroke-width="1.3" stroke-linecap="butt" stroke-dasharray="1.3 1.9"/>
<path d="M543.0,248.0 C544.0,249.0 546.8,252.5 549.0,254.0 C551.2,255.5 554.2,255.8 556.0,257.0 C557.8,258.2 559.8,259.8 560.0,261.0 C560.2,262.2 557.5,263.5 557.0,264.0" fill="none" stroke="#1a1a1a" stroke-width="6.5" stroke-linecap="round" stroke-linejoin="round"/>
<path d="M543.0,248.0 C544.0,249.0 546.8,252.5 549.0,254.0 C551.2,255.5 554.2,255.8 556.0,257.0 C557.8,258.2 559.8,259.8 560.0,261.0 C560.2,262.2 557.5,263.5 557.0,264.0" fill="none" stroke="#cdcdcd" stroke-width="2.7" stroke-linecap="round" stroke-linejoin="round"/>
<path d="M543.0,248.0 C544.0,249.0 546.8,252.5 549.0,254.0 C551.2,255.5 554.2,255.8 556.0,257.0 C557.8,258.2 559.8,259.8 560.0,261.0 C560.2,262.2 557.5,263.5 557.0,264.0" fill="none" stroke="#5a5a5a" stroke-width="2.7" stroke-linecap="round" stroke-linejoin="round"/>
<path d="M543.0,248.0 C544.0,249.0 546.8,252.5 549.0,254.0 C551.2,255.5 554.2,255.8 556.0,257.0 C557.8,258.2 559.8,259.8 560.0,261.0 C560.2,262.2 557.5,263.5 557.0,264.0" fill="none" stroke="#e4e4e4" stroke-width="1.6" stroke-linecap="butt" stroke-dasharray="1.3 1.9"/>
<path d="M538.0,252.0 C539.0,252.8 542.3,256.3 544.0,257.0 C545.7,257.7 547.3,256.2 548.0,256.0" fill="none" stroke="#1a1a1a" stroke-width="5.7" stroke-linecap="round" stroke-linejoin="round"/>
<path d="M538.0,252.0 C539.0,252.8 542.3,256.3 544.0,257.0 C545.7,257.7 547.3,256.2 548.0,256.0" fill="none" stroke="#cdcdcd" stroke-width="1.9" stroke-linecap="round" stroke-linejoin="round"/>
<path d="M538.0,252.0 C539.0,252.8 542.3,256.3 544.0,257.0 C545.7,257.7 547.3,256.2 548.0,256.0" fill="none" stroke="#5a5a5a" stroke-width="1.9" stroke-linecap="round" stroke-linejoin="round"/>
<path d="M538.0,252.0 C539.0,252.8 542.3,256.3 544.0,257.0 C545.7,257.7 547.3,256.2 548.0,256.0" fill="none" stroke="#e4e4e4" stroke-width="1.1" stroke-linecap="butt" stroke-dasharray="1.3 1.9"/>
<path d="M541,243 q6,-3 12,1" fill="none" stroke="#222" stroke-width="1.2" stroke-linejoin="round" stroke-linecap="round" />
<path d="M433.0,279.0 C432.7,279.8 430.5,282.2 431.0,284.0 C431.5,285.8 433.3,288.3 436.0,290.0 C438.7,291.7 443.7,292.8 447.0,294.0 C450.3,295.2 454.2,295.0 456.0,297.0 C457.8,299.0 457.2,304.5 457.5,306.0" fill="none" stroke="#1a1a1a" stroke-width="6.3" stroke-linecap="round" stroke-linejoin="round"/>
<path d="M433.0,279.0 C432.7,279.8 430.5,282.2 431.0,284.0 C431.5,285.8 433.3,288.3 436.0,290.0 C438.7,291.7 443.7,292.8 447.0,294.0 C450.3,295.2 454.2,295.0 456.0,297.0 C457.8,299.0 457.2,304.5 457.5,306.0" fill="none" stroke="#cdcdcd" stroke-width="3.1" stroke-linecap="round" stroke-linejoin="round"/>
<path d="M441.0,292.0 C442.8,293.0 449.5,295.5 452.0,298.0 C454.5,300.5 455.3,305.5 456.0,307.0" fill="none" stroke="#1a1a1a" stroke-width="5.9" stroke-linecap="round" stroke-linejoin="round"/>
<path d="M441.0,292.0 C442.8,293.0 449.5,295.5 452.0,298.0 C454.5,300.5 455.3,305.5 456.0,307.0" fill="none" stroke="#cdcdcd" stroke-width="2.1" stroke-linecap="round" stroke-linejoin="round"/>
<path d="M441.0,292.0 C442.8,293.0 449.5,295.5 452.0,298.0 C454.5,300.5 455.3,305.5 456.0,307.0" fill="none" stroke="#5a5a5a" stroke-width="2.1" stroke-linecap="round" stroke-linejoin="round"/>
<path d="M441.0,292.0 C442.8,293.0 449.5,295.5 452.0,298.0 C454.5,300.5 455.3,305.5 456.0,307.0" fill="none" stroke="#e4e4e4" stroke-width="1.2" stroke-linecap="butt" stroke-dasharray="1.3 1.9"/>
<path d="M436.0,293.0 C436.8,293.9 439.2,297.1 441.0,298.5 C442.8,299.9 446.0,301.0 447.0,301.5" fill="none" stroke="#1a1a1a" stroke-width="5.3" stroke-linecap="round" stroke-linejoin="round"/>
<path d="M436.0,293.0 C436.8,293.9 439.2,297.1 441.0,298.5 C442.8,299.9 446.0,301.0 447.0,301.5" fill="none" stroke="#cdcdcd" stroke-width="2.1" stroke-linecap="round" stroke-linejoin="round"/>
<ellipse cx="441.5" cy="298.5" rx="2.2" ry="2.6" fill="#3a3a3a" stroke="#111" stroke-width="1.0"/>
<ellipse cx="448.5" cy="301.5" rx="2.0" ry="2.4" fill="#555" stroke="#111" stroke-width="1.0"/>
<ellipse cx="456.5" cy="308.0" rx="2.6" ry="2.2" fill="#3a3a3a" stroke="#111" stroke-width="1.0"/>
<ellipse cx="447.5" cy="270.5" rx="1.8" ry="3.0" fill="#f4f4f4" stroke="#222" stroke-width="0.9" transform="rotate(-30.0 447.5 270.5)"/>
<ellipse cx="451.0" cy="278.5" rx="1.8" ry="3.0" fill="#f4f4f4" stroke="#222" stroke-width="0.9" transform="rotate(-30.0 451.0 278.5)"/>
<ellipse cx="483.0" cy="248.5" rx="1.8" ry="3.0" fill="#f4f4f4" stroke="#222" stroke-width="0.9" transform="rotate(-30.0 483.0 248.5)"/>
<ellipse cx="487.0" cy="257.0" rx="1.8" ry="3.0" fill="#f4f4f4" stroke="#222" stroke-width="0.9" transform="rotate(-30.0 487.0 257.0)"/>
<path d="M363.5,304.5 C364.1,305.2 365.1,306.5 367.0,308.5 C368.9,310.5 372.2,315.8 375.0,316.5 C377.8,317.2 381.0,314.4 384.0,313.0 C387.0,311.6 389.5,309.3 393.0,308.0 C396.5,306.7 401.7,304.4 405.0,305.0 C408.3,305.6 410.2,307.8 413.0,311.5 C415.8,315.2 419.2,322.2 422.0,327.0 C424.8,331.8 427.3,336.7 430.0,340.0 C432.7,343.3 435.1,345.1 438.0,347.0 C440.9,348.9 445.9,350.8 447.5,351.5" fill="none" stroke="#1a1a1a" stroke-width="7.5" stroke-linecap="round" stroke-linejoin="round"/>
<path d="M363.5,304.5 C364.1,305.2 365.1,306.5 367.0,308.5 C368.9,310.5 372.2,315.8 375.0,316.5 C377.8,317.2 381.0,314.4 384.0,313.0 C387.0,311.6 389.5,309.3 393.0,308.0 C396.5,306.7 401.7,304.4 405.0,305.0 C408.3,305.6 410.2,307.8 413.0,311.5 C415.8,315.2 419.2,322.2 422.0,327.0 C424.8,331.8 427.3,336.7 430.0,340.0 C432.7,343.3 435.1,345.1 438.0,347.0 C440.9,348.9 445.9,350.8 447.5,351.5" fill="none" stroke="#cdcdcd" stroke-width="3.7" stroke-linecap="round" stroke-linejoin="round"/>
<path d="M363.5,304.5 C364.1,305.2 365.1,306.5 367.0,308.5 C368.9,310.5 372.2,315.8 375.0,316.5 C377.8,317.2 381.0,314.4 384.0,313.0 C387.0,311.6 389.5,309.3 393.0,308.0 C396.5,306.7 401.7,304.4 405.0,305.0 C408.3,305.6 410.2,307.8 413.0,311.5 C415.8,315.2 419.2,322.2 422.0,327.0 C424.8,331.8 427.3,336.7 430.0,340.0 C432.7,343.3 435.1,345.1 438.0,347.0 C440.9,348.9 445.9,350.8 447.5,351.5" fill="none" stroke="#5a5a5a" stroke-width="3.7" stroke-linecap="round" stroke-linejoin="round"/>
<path d="M363.5,304.5 C364.1,305.2 365.1,306.5 367.0,308.5 C368.9,310.5 372.2,315.8 375.0,316.5 C377.8,317.2 381.0,314.4 384.0,313.0 C387.0,311.6 389.5,309.3 393.0,308.0 C396.5,306.7 401.7,304.4 405.0,305.0 C408.3,305.6 410.2,307.8 413.0,311.5 C415.8,315.2 419.2,322.2 422.0,327.0 C424.8,331.8 427.3,336.7 430.0,340.0 C432.7,343.3 435.1,345.1 438.0,347.0 C440.9,348.9 445.9,350.8 447.5,351.5" fill="none" stroke="#e4e4e4" stroke-width="2.1" stroke-linecap="butt" stroke-dasharray="1.3 1.9"/>
<path d="M432.0,346.0 C431.9,346.8 431.6,349.8 431.5,350.5" fill="none" stroke="#1a1a1a" stroke-width="5.1" stroke-linecap="round" stroke-linejoin="round"/>
<path d="M432.0,346.0 C431.9,346.8 431.6,349.8 431.5,350.5" fill="none" stroke="#8a8a8a" stroke-width="1.9" stroke-linecap="round" stroke-linejoin="round"/>
<path d="M402.5,316.5 q3,-3.5 6,0.5 q1,4.5 -2.5,6.5 q-4,-1 -3.5,-7 Z" fill="#8a8a8a" stroke="#161616" stroke-width="1.9" stroke-linejoin="round" stroke-linecap="round" />
<path d="M405.5,323 l1.5,4.5 l-2.5,2 l2,3" fill="none" stroke="#161616" stroke-width="1.8" stroke-linejoin="round" stroke-linecap="round" />
<path d="M317.5,343.5 C318.1,345.1 319.4,349.9 321.0,353.0 C322.6,356.1 324.2,359.2 327.0,362.0 C329.8,364.8 335.3,367.0 338.0,370.0 C340.7,373.0 340.2,378.0 343.0,380.0 C345.8,382.0 351.7,380.2 355.0,382.0 C358.3,383.8 360.0,388.7 363.0,391.0 C366.0,393.3 368.0,395.8 373.0,396.0 C378.0,396.2 388.7,393.5 393.0,392.0 C397.3,390.5 398.1,389.3 399.0,387.0 C399.9,384.7 399.7,379.9 398.5,378.0 C397.3,376.1 395.6,374.6 392.0,375.5 C388.4,376.4 380.7,382.4 377.0,383.5 C373.3,384.6 371.2,382.2 370.0,382.0" fill="none" stroke="#1a1a1a" stroke-width="7.9" stroke-linecap="round" stroke-linejoin="round"/>
<path d="M317.5,343.5 C318.1,345.1 319.4,349.9 321.0,353.0 C322.6,356.1 324.2,359.2 327.0,362.0 C329.8,364.8 335.3,367.0 338.0,370.0 C340.7,373.0 340.2,378.0 343.0,380.0 C345.8,382.0 351.7,380.2 355.0,382.0 C358.3,383.8 360.0,388.7 363.0,391.0 C366.0,393.3 368.0,395.8 373.0,396.0 C378.0,396.2 388.7,393.5 393.0,392.0 C397.3,390.5 398.1,389.3 399.0,387.0 C399.9,384.7 399.7,379.9 398.5,378.0 C397.3,376.1 395.6,374.6 392.0,375.5 C388.4,376.4 380.7,382.4 377.0,383.5 C373.3,384.6 371.2,382.2 370.0,382.0" fill="none" stroke="#cdcdcd" stroke-width="4.1" stroke-linecap="round" stroke-linejoin="round"/>
<path d="M317.5,343.5 C318.1,345.1 319.4,349.9 321.0,353.0 C322.6,356.1 324.2,359.2 327.0,362.0 C329.8,364.8 335.3,367.0 338.0,370.0 C340.7,373.0 340.2,378.0 343.0,380.0 C345.8,382.0 351.7,380.2 355.0,382.0 C358.3,383.8 360.0,388.7 363.0,391.0 C366.0,393.3 368.0,395.8 373.0,396.0 C378.0,396.2 388.7,393.5 393.0,392.0 C397.3,390.5 398.1,389.3 399.0,387.0 C399.9,384.7 399.7,379.9 398.5,378.0 C397.3,376.1 395.6,374.6 392.0,375.5 C388.4,376.4 380.7,382.4 377.0,383.5 C373.3,384.6 371.2,382.2 370.0,382.0" fill="none" stroke="#5a5a5a" stroke-width="4.1" stroke-linecap="round" stroke-linejoin="round"/>
<path d="M317.5,343.5 C318.1,345.1 319.4,349.9 321.0,353.0 C322.6,356.1 324.2,359.2 327.0,362.0 C329.8,364.8 335.3,367.0 338.0,370.0 C340.7,373.0 340.2,378.0 343.0,380.0 C345.8,382.0 351.7,380.2 355.0,382.0 C358.3,383.8 360.0,388.7 363.0,391.0 C366.0,393.3 368.0,395.8 373.0,396.0 C378.0,396.2 388.7,393.5 393.0,392.0 C397.3,390.5 398.1,389.3 399.0,387.0 C399.9,384.7 399.7,379.9 398.5,378.0 C397.3,376.1 395.6,374.6 392.0,375.5 C388.4,376.4 380.7,382.4 377.0,383.5 C373.3,384.6 371.2,382.2 370.0,382.0" fill="none" stroke="#e4e4e4" stroke-width="2.4" stroke-linecap="butt" stroke-dasharray="1.3 1.9"/>
<ellipse cx="315.5" cy="345.0" rx="3.0" ry="3.4" fill="#fff" stroke="#1c1c1c" stroke-width="1.3"/>
<path d="M357,379 l3,-2" fill="none" stroke="#111" stroke-width="2.5" stroke-linejoin="round" stroke-linecap="round" />
<path d="M464.0,400.0 C464.0,401.7 463.3,407.2 464.0,410.0 C464.7,412.8 466.2,415.2 468.0,417.0 C469.8,418.8 472.1,420.5 475.0,421.0 C477.9,421.5 483.8,420.2 485.5,420.0" fill="none" stroke="#1a1a1a" stroke-width="7.7" stroke-linecap="round" stroke-linejoin="round"/>
<path d="M464.0,400.0 C464.0,401.7 463.3,407.2 464.0,410.0 C464.7,412.8 466.2,415.2 468.0,417.0 C469.8,418.8 472.1,420.5 475.0,421.0 C477.9,421.5 483.8,420.2 485.5,420.0" fill="none" stroke="#cdcdcd" stroke-width="3.9" stroke-linecap="round" stroke-linejoin="round"/>
<path d="M464.0,400.0 C464.0,401.7 463.3,407.2 464.0,410.0 C464.7,412.8 466.2,415.2 468.0,417.0 C469.8,418.8 472.1,420.5 475.0,421.0 C477.9,421.5 483.8,420.2 485.5,420.0" fill="none" stroke="#5a5a5a" stroke-width="3.9" stroke-linecap="round" stroke-linejoin="round"/>
<path d="M464.0,400.0 C464.0,401.7 463.3,407.2 464.0,410.0 C464.7,412.8 466.2,415.2 468.0,417.0 C469.8,418.8 472.1,420.5 475.0,421.0 C477.9,421.5 483.8,420.2 485.5,420.0" fill="none" stroke="#e4e4e4" stroke-width="2.3" stroke-linecap="butt" stroke-dasharray="1.3 1.9"/>
<path d="M690.0,410.5 C691.3,410.1 695.4,408.5 698.0,408.0 C700.6,407.5 704.2,407.6 705.5,407.5" fill="none" stroke="#1a1a1a" stroke-width="7.9" stroke-linecap="round" stroke-linejoin="round"/>
<path d="M690.0,410.5 C691.3,410.1 695.4,408.5 698.0,408.0 C700.6,407.5 704.2,407.6 705.5,407.5" fill="none" stroke="#cdcdcd" stroke-width="4.1" stroke-linecap="round" stroke-linejoin="round"/>
<path d="M690.0,410.5 C691.3,410.1 695.4,408.5 698.0,408.0 C700.6,407.5 704.2,407.6 705.5,407.5" fill="none" stroke="#5a5a5a" stroke-width="4.1" stroke-linecap="round" stroke-linejoin="round"/>
<path d="M690.0,410.5 C691.3,410.1 695.4,408.5 698.0,408.0 C700.6,407.5 704.2,407.6 705.5,407.5" fill="none" stroke="#e4e4e4" stroke-width="2.4" stroke-linecap="butt" stroke-dasharray="1.3 1.9"/>
<path d="M368.0,649.2 C378.8,642.8 393.8,634.1 433.0,610.8 C472.2,587.5 570.4,529.0 603.0,509.3 C635.6,489.6 623.2,496.7 628.5,492.5 C633.8,488.3 632.5,486.4 634.5,484.0 C636.5,481.6 637.4,480.2 640.5,478.0 C643.6,475.8 648.8,472.4 653.0,471.0 C657.2,469.6 662.0,469.2 666.0,469.5 C670.0,469.8 675.2,472.4 677.0,473.0" fill="none" stroke="#1a1a1a" stroke-width="6.2" stroke-linecap="round" stroke-linejoin="round"/>
<path d="M368.0,649.2 C378.8,642.8 393.8,634.1 433.0,610.8 C472.2,587.5 570.4,529.0 603.0,509.3 C635.6,489.6 623.2,496.7 628.5,492.5 C633.8,488.3 632.5,486.4 634.5,484.0 C636.5,481.6 637.4,480.2 640.5,478.0 C643.6,475.8 648.8,472.4 653.0,471.0 C657.2,469.6 662.0,469.2 666.0,469.5 C670.0,469.8 675.2,472.4 677.0,473.0" fill="none" stroke="#cdcdcd" stroke-width="2.8" stroke-linecap="round" stroke-linejoin="round"/>
<path d="M365.0,643.5 C375.8,637.1 390.8,628.6 430.0,605.3 C469.2,582.0 567.5,523.4 600.0,503.8 C632.5,484.2 619.8,491.6 625.0,487.5 C630.2,483.4 629.0,481.6 631.0,479.0 C633.0,476.4 633.8,474.1 637.0,472.0 C640.2,469.9 645.9,468.5 650.0,466.5 C654.1,464.5 658.2,461.7 661.7,460.0 C665.2,458.3 669.5,457.1 671.0,456.5" fill="none" stroke="#1a1a1a" stroke-width="6.2" stroke-linecap="round" stroke-linejoin="round"/>
<path d="M365.0,643.5 C375.8,637.1 390.8,628.6 430.0,605.3 C469.2,582.0 567.5,523.4 600.0,503.8 C632.5,484.2 619.8,491.6 625.0,487.5 C630.2,483.4 629.0,481.6 631.0,479.0 C633.0,476.4 633.8,474.1 637.0,472.0 C640.2,469.9 645.9,468.5 650.0,466.5 C654.1,464.5 658.2,461.7 661.7,460.0 C665.2,458.3 669.5,457.1 671.0,456.5" fill="none" stroke="#cdcdcd" stroke-width="2.8" stroke-linecap="round" stroke-linejoin="round"/>
<path d="M661.7,460.0 C663.2,459.4 669.5,457.1 671.0,456.5" fill="none" stroke="#1a1a1a" stroke-width="7.3" stroke-linecap="round" stroke-linejoin="round"/>
<path d="M661.7,460.0 C663.2,459.4 669.5,457.1 671.0,456.5" fill="none" stroke="#cdcdcd" stroke-width="3.5" stroke-linecap="round" stroke-linejoin="round"/>
<path d="M661.7,460.0 C663.2,459.4 669.5,457.1 671.0,456.5" fill="none" stroke="#5a5a5a" stroke-width="3.5" stroke-linecap="round" stroke-linejoin="round"/>
<path d="M661.7,460.0 C663.2,459.4 669.5,457.1 671.0,456.5" fill="none" stroke="#e4e4e4" stroke-width="2.0" stroke-linecap="butt" stroke-dasharray="1.3 1.9"/>
<path d="M661.0,469.0 C662.5,469.2 667.3,469.3 670.0,470.0 C672.7,470.7 675.8,472.8 677.0,473.3" fill="none" stroke="#1a1a1a" stroke-width="7.3" stroke-linecap="round" stroke-linejoin="round"/>
<path d="M661.0,469.0 C662.5,469.2 667.3,469.3 670.0,470.0 C672.7,470.7 675.8,472.8 677.0,473.3" fill="none" stroke="#cdcdcd" stroke-width="3.5" stroke-linecap="round" stroke-linejoin="round"/>
<path d="M661.0,469.0 C662.5,469.2 667.3,469.3 670.0,470.0 C672.7,470.7 675.8,472.8 677.0,473.3" fill="none" stroke="#5a5a5a" stroke-width="3.5" stroke-linecap="round" stroke-linejoin="round"/>
<path d="M661.0,469.0 C662.5,469.2 667.3,469.3 670.0,470.0 C672.7,470.7 675.8,472.8 677.0,473.3" fill="none" stroke="#e4e4e4" stroke-width="2.0" stroke-linecap="butt" stroke-dasharray="1.3 1.9"/>
<path d="M385.2,626.0 l4,9 l3,-1 l-4,-9 z" fill="#ddd" stroke="#1c1c1c" stroke-width="1.1" stroke-linejoin="round" stroke-linecap="round" />
<path d="M385.7,626.0 l-2,-3 l3,-1" fill="none" stroke="#1c1c1c" stroke-width="1.2" stroke-linejoin="round" stroke-linecap="round" />
<path d="M447.5,588.0 l4,9 l3,-1 l-4,-9 z" fill="#ddd" stroke="#1c1c1c" stroke-width="1.1" stroke-linejoin="round" stroke-linecap="round" />
<path d="M448.0,588.0 l-2,-3 l3,-1" fill="none" stroke="#1c1c1c" stroke-width="1.2" stroke-linejoin="round" stroke-linecap="round" />
<path d="M546.0,531.0 l4,9 l3,-1 l-4,-9 z" fill="#ddd" stroke="#1c1c1c" stroke-width="1.1" stroke-linejoin="round" stroke-linecap="round" />
<path d="M546.5,531.0 l-2,-3 l3,-1" fill="none" stroke="#1c1c1c" stroke-width="1.2" stroke-linejoin="round" stroke-linecap="round" />
<path d="M603.5,497.5 l4,9 l3,-1 l-4,-9 z" fill="#ddd" stroke="#1c1c1c" stroke-width="1.1" stroke-linejoin="round" stroke-linecap="round" />
<path d="M604.0,497.5 l-2,-3 l3,-1" fill="none" stroke="#1c1c1c" stroke-width="1.2" stroke-linejoin="round" stroke-linecap="round" />
<path d="M360.0,652.0 C359.8,651.2 358.3,648.8 358.5,647.5 C358.7,646.2 359.8,644.9 361.0,644.0 C362.2,643.1 365.2,642.3 366.0,642.0" fill="none" stroke="#1a1a1a" stroke-width="8.3" stroke-linecap="round" stroke-linejoin="round"/>
<path d="M360.0,652.0 C359.8,651.2 358.3,648.8 358.5,647.5 C358.7,646.2 359.8,644.9 361.0,644.0 C362.2,643.1 365.2,642.3 366.0,642.0" fill="none" stroke="#cdcdcd" stroke-width="4.5" stroke-linecap="round" stroke-linejoin="round"/>
<path d="M360.0,652.0 C359.8,651.2 358.3,648.8 358.5,647.5 C358.7,646.2 359.8,644.9 361.0,644.0 C362.2,643.1 365.2,642.3 366.0,642.0" fill="none" stroke="#5a5a5a" stroke-width="4.5" stroke-linecap="round" stroke-linejoin="round"/>
<path d="M360.0,652.0 C359.8,651.2 358.3,648.8 358.5,647.5 C358.7,646.2 359.8,644.9 361.0,644.0 C362.2,643.1 365.2,642.3 366.0,642.0" fill="none" stroke="#e4e4e4" stroke-width="2.6" stroke-linecap="butt" stroke-dasharray="1.3 1.9"/>
<path d="M647.0,463.0 C647.8,463.7 651.2,466.3 652.0,467.0" fill="none" stroke="#1a1a1a" stroke-width="3.4" stroke-linecap="round" stroke-linejoin="round"/>
<path d="M647.0,463.0 C647.8,463.7 651.2,466.3 652.0,467.0" fill="none" stroke="#eee" stroke-width="0.6" stroke-linecap="round" stroke-linejoin="round"/>
<path d="M693.0,474.0 C694.7,473.8 700.3,473.8 703.0,473.0 C705.7,472.2 707.0,470.7 709.0,469.5 C711.0,468.3 712.9,466.5 715.0,466.0 C717.1,465.5 719.2,465.9 721.7,466.7 C724.2,467.5 726.7,470.6 730.0,471.0 C733.3,471.4 738.0,469.9 741.7,469.0 C745.4,468.1 748.7,466.5 752.0,465.5 C755.3,464.5 758.7,462.8 761.7,463.0 C764.7,463.2 767.5,465.4 770.0,466.7 C772.5,468.0 775.6,470.3 776.7,471.0" fill="none" stroke="#1a1a1a" stroke-width="5.3" stroke-linecap="round" stroke-linejoin="round"/>
<path d="M693.0,474.0 C694.7,473.8 700.3,473.8 703.0,473.0 C705.7,472.2 707.0,470.7 709.0,469.5 C711.0,468.3 712.9,466.5 715.0,466.0 C717.1,465.5 719.2,465.9 721.7,466.7 C724.2,467.5 726.7,470.6 730.0,471.0 C733.3,471.4 738.0,469.9 741.7,469.0 C745.4,468.1 748.7,466.5 752.0,465.5 C755.3,464.5 758.7,462.8 761.7,463.0 C764.7,463.2 767.5,465.4 770.0,466.7 C772.5,468.0 775.6,470.3 776.7,471.0" fill="none" stroke="#cdcdcd" stroke-width="1.9" stroke-linecap="round" stroke-linejoin="round"/>
<path d="M681.5,476 Q682,471.5 688,471 L695,472 L695.5,476.5 Q694,483.5 687,484.5 Q681,483 681.5,476 Z" fill="#cfcfcf" stroke="#161616" stroke-width="2.4" stroke-linejoin="round" stroke-linecap="round" />
<path d="M685,476 q3,-3 7,-1 M688,480 q3,1 4,-2" fill="none" stroke="#222" stroke-width="1.3" stroke-linejoin="round" stroke-linecap="round" />
<path d="M718,464 l5,0 l0,6 l-5,0 z" fill="#e0e0e0" stroke="#1c1c1c" stroke-width="1.0" stroke-linejoin="round" stroke-linecap="round" />
<path d="M768,465 l8,3 l-1,4 l-8,-3 z" fill="#e8e8e8" stroke="#1c1c1c" stroke-width="1.0" stroke-linejoin="round" stroke-linecap="round" />
<path d="M782.0,474.0 C784.2,474.4 791.7,477.4 795.0,476.7 C798.3,476.0 799.8,472.4 802.0,470.0 C804.2,467.6 805.0,465.7 808.3,462.0 C811.6,458.3 816.7,452.0 822.0,448.0 C827.3,444.0 834.5,441.0 840.0,438.0 C845.5,435.0 852.5,431.3 855.0,430.0" fill="none" stroke="#1a1a1a" stroke-width="7.7" stroke-linecap="round" stroke-linejoin="round"/>
<path d="M782.0,474.0 C784.2,474.4 791.7,477.4 795.0,476.7 C798.3,476.0 799.8,472.4 802.0,470.0 C804.2,467.6 805.0,465.7 808.3,462.0 C811.6,458.3 816.7,452.0 822.0,448.0 C827.3,444.0 834.5,441.0 840.0,438.0 C845.5,435.0 852.5,431.3 855.0,430.0" fill="none" stroke="#cdcdcd" stroke-width="3.9" stroke-linecap="round" stroke-linejoin="round"/>
<path d="M782.0,474.0 C784.2,474.4 791.7,477.4 795.0,476.7 C798.3,476.0 799.8,472.4 802.0,470.0 C804.2,467.6 805.0,465.7 808.3,462.0 C811.6,458.3 816.7,452.0 822.0,448.0 C827.3,444.0 834.5,441.0 840.0,438.0 C845.5,435.0 852.5,431.3 855.0,430.0" fill="none" stroke="#5a5a5a" stroke-width="3.9" stroke-linecap="round" stroke-linejoin="round"/>
<path d="M782.0,474.0 C784.2,474.4 791.7,477.4 795.0,476.7 C798.3,476.0 799.8,472.4 802.0,470.0 C804.2,467.6 805.0,465.7 808.3,462.0 C811.6,458.3 816.7,452.0 822.0,448.0 C827.3,444.0 834.5,441.0 840.0,438.0 C845.5,435.0 852.5,431.3 855.0,430.0" fill="none" stroke="#e4e4e4" stroke-width="2.3" stroke-linecap="butt" stroke-dasharray="1.3 1.9"/>
<path d="M812.0,455.0 C813.7,454.6 817.3,453.1 822.0,452.5 C826.7,451.9 837.0,451.8 840.0,451.7" fill="none" stroke="#1a1a1a" stroke-width="7.3" stroke-linecap="round" stroke-linejoin="round"/>
<path d="M812.0,455.0 C813.7,454.6 817.3,453.1 822.0,452.5 C826.7,451.9 837.0,451.8 840.0,451.7" fill="none" stroke="#cdcdcd" stroke-width="3.5" stroke-linecap="round" stroke-linejoin="round"/>
<path d="M812.0,455.0 C813.7,454.6 817.3,453.1 822.0,452.5 C826.7,451.9 837.0,451.8 840.0,451.7" fill="none" stroke="#5a5a5a" stroke-width="3.5" stroke-linecap="round" stroke-linejoin="round"/>
<path d="M812.0,455.0 C813.7,454.6 817.3,453.1 822.0,452.5 C826.7,451.9 837.0,451.8 840.0,451.7" fill="none" stroke="#e4e4e4" stroke-width="2.0" stroke-linecap="butt" stroke-dasharray="1.3 1.9"/>
<path d="M806.0,464.0 C806.4,465.3 807.8,469.1 808.5,472.0 C809.2,474.9 808.6,479.1 810.0,481.7 C811.4,484.3 815.6,486.5 816.7,487.5" fill="none" stroke="#1a1a1a" stroke-width="7.1" stroke-linecap="round" stroke-linejoin="round"/>
<path d="M806.0,464.0 C806.4,465.3 807.8,469.1 808.5,472.0 C809.2,474.9 808.6,479.1 810.0,481.7 C811.4,484.3 815.6,486.5 816.7,487.5" fill="none" stroke="#cdcdcd" stroke-width="3.3" stroke-linecap="round" stroke-linejoin="round"/>
<path d="M806.0,464.0 C806.4,465.3 807.8,469.1 808.5,472.0 C809.2,474.9 808.6,479.1 810.0,481.7 C811.4,484.3 815.6,486.5 816.7,487.5" fill="none" stroke="#5a5a5a" stroke-width="3.3" stroke-linecap="round" stroke-linejoin="round"/>
<path d="M806.0,464.0 C806.4,465.3 807.8,469.1 808.5,472.0 C809.2,474.9 808.6,479.1 810.0,481.7 C811.4,484.3 815.6,486.5 816.7,487.5" fill="none" stroke="#e4e4e4" stroke-width="1.9" stroke-linecap="butt" stroke-dasharray="1.3 1.9"/>
<path d="M816.7,487.5 L875.0,520.8" fill="none" stroke="#1a1a1a" stroke-width="5.8" stroke-linecap="round" stroke-linejoin="round"/>
<path d="M816.7,487.5 L875.0,520.8" fill="none" stroke="#cdcdcd" stroke-width="2.2" stroke-linecap="round" stroke-linejoin="round"/>
<path d="M875.0,520.8 C877.5,521.8 886.8,524.7 890.0,526.7 C893.2,528.7 894.2,530.8 894.0,533.0 C893.8,535.2 888.2,537.6 888.5,540.0 C888.8,542.4 894.8,546.2 896.0,547.5" fill="none" stroke="#1a1a1a" stroke-width="7.3" stroke-linecap="round" stroke-linejoin="round"/>
<path d="M875.0,520.8 C877.5,521.8 886.8,524.7 890.0,526.7 C893.2,528.7 894.2,530.8 894.0,533.0 C893.8,535.2 888.2,537.6 888.5,540.0 C888.8,542.4 894.8,546.2 896.0,547.5" fill="none" stroke="#cdcdcd" stroke-width="3.5" stroke-linecap="round" stroke-linejoin="round"/>
<path d="M875.0,520.8 C877.5,521.8 886.8,524.7 890.0,526.7 C893.2,528.7 894.2,530.8 894.0,533.0 C893.8,535.2 888.2,537.6 888.5,540.0 C888.8,542.4 894.8,546.2 896.0,547.5" fill="none" stroke="#5a5a5a" stroke-width="3.5" stroke-linecap="round" stroke-linejoin="round"/>
<path d="M875.0,520.8 C877.5,521.8 886.8,524.7 890.0,526.7 C893.2,528.7 894.2,530.8 894.0,533.0 C893.8,535.2 888.2,537.6 888.5,540.0 C888.8,542.4 894.8,546.2 896.0,547.5" fill="none" stroke="#e4e4e4" stroke-width="2.0" stroke-linecap="butt" stroke-dasharray="1.3 1.9"/>
<ellipse cx="818.0" cy="491.0" rx="1.8" ry="1.8" fill="#333" stroke="#111" stroke-width="0.8"/>
<ellipse cx="876.0" cy="524.5" rx="1.8" ry="1.8" fill="#333" stroke="#111" stroke-width="0.8"/>
<path d="M911.0,564.5 C912.5,564.9 917.3,565.5 920.0,566.7 C922.7,567.9 925.1,569.5 927.0,571.7 C928.9,573.9 930.8,575.0 931.5,580.0 C932.2,585.0 930.7,597.0 931.0,601.7 C931.3,606.4 931.5,606.3 933.5,608.0 C935.5,609.7 941.1,610.0 943.0,611.7 C944.9,613.4 945.3,615.5 945.0,618.0 C944.7,620.5 941.3,623.6 941.0,626.7 C940.7,629.8 941.5,634.4 943.0,636.7 C944.5,639.1 948.8,640.1 950.0,640.8" fill="none" stroke="#1a1a1a" stroke-width="5.6" stroke-linecap="round" stroke-linejoin="round"/>
<path d="M911.0,564.5 C912.5,564.9 917.3,565.5 920.0,566.7 C922.7,567.9 925.1,569.5 927.0,571.7 C928.9,573.9 930.8,575.0 931.5,580.0 C932.2,585.0 930.7,597.0 931.0,601.7 C931.3,606.4 931.5,606.3 933.5,608.0 C935.5,609.7 941.1,610.0 943.0,611.7 C944.9,613.4 945.3,615.5 945.0,618.0 C944.7,620.5 941.3,623.6 941.0,626.7 C940.7,629.8 941.5,634.4 943.0,636.7 C944.5,639.1 948.8,640.1 950.0,640.8" fill="none" stroke="#cdcdcd" stroke-width="2.2" stroke-linecap="round" stroke-linejoin="round"/>
<path d="M908,562 l6,2 l-1,4 l-6,-2 z" fill="#eee" stroke="#1c1c1c" stroke-width="1.0" stroke-linejoin="round" stroke-linecap="round" />
<ellipse cx="932.5" cy="608.5" rx="2.6" ry="2.6" fill="#eee" stroke="#1c1c1c" stroke-width="1.0"/>
<path d="M939,630 l7,3 l3,6 l-4,2 l-6,-5 z" fill="#e4e4e4" stroke="#1c1c1c" stroke-width="1.2" stroke-linejoin="round" stroke-linecap="round" />
<path d="M685.0,873.0 L696.7,863.5 L706.7,858.5 L932.0,726.5" fill="none" stroke="#1a1a1a" stroke-width="5.8" stroke-linecap="round" stroke-linejoin="round"/>
<path d="M685.0,873.0 L696.7,863.5 L706.7,858.5 L932.0,726.5" fill="none" stroke="#cdcdcd" stroke-width="2.3" stroke-linecap="round" stroke-linejoin="round"/>
<path d="M652.0,860.8 C653.8,861.1 660.0,861.0 663.0,862.5 C666.0,864.0 667.5,867.8 670.0,870.0 C672.5,872.2 675.5,875.3 678.0,875.8 C680.5,876.3 683.8,873.5 685.0,873.0" fill="none" stroke="#1a1a1a" stroke-width="7.3" stroke-linecap="round" stroke-linejoin="round"/>
<path d="M652.0,860.8 C653.8,861.1 660.0,861.0 663.0,862.5 C666.0,864.0 667.5,867.8 670.0,870.0 C672.5,872.2 675.5,875.3 678.0,875.8 C680.5,876.3 683.8,873.5 685.0,873.0" fill="none" stroke="#cdcdcd" stroke-width="3.5" stroke-linecap="round" stroke-linejoin="round"/>
<path d="M652.0,860.8 C653.8,861.1 660.0,861.0 663.0,862.5 C666.0,864.0 667.5,867.8 670.0,870.0 C672.5,872.2 675.5,875.3 678.0,875.8 C680.5,876.3 683.8,873.5 685.0,873.0" fill="none" stroke="#5a5a5a" stroke-width="3.5" stroke-linecap="round" stroke-linejoin="round"/>
<path d="M652.0,860.8 C653.8,861.1 660.0,861.0 663.0,862.5 C666.0,864.0 667.5,867.8 670.0,870.0 C672.5,872.2 675.5,875.3 678.0,875.8 C680.5,876.3 683.8,873.5 685.0,873.0" fill="none" stroke="#e4e4e4" stroke-width="2.0" stroke-linecap="butt" stroke-dasharray="1.3 1.9"/>
<path d="M932.0,726.5 C932.7,725.2 934.8,721.4 936.0,719.0 C937.2,716.6 937.3,714.0 939.0,712.0 C940.7,710.0 943.7,708.2 946.0,707.0 C948.3,705.8 951.8,704.9 953.0,704.5" fill="none" stroke="#1a1a1a" stroke-width="5.8" stroke-linecap="round" stroke-linejoin="round"/>
<path d="M932.0,726.5 C932.7,725.2 934.8,721.4 936.0,719.0 C937.2,716.6 937.3,714.0 939.0,712.0 C940.7,710.0 943.7,708.2 946.0,707.0 C948.3,705.8 951.8,704.9 953.0,704.5" fill="none" stroke="#cdcdcd" stroke-width="2.3" stroke-linecap="round" stroke-linejoin="round"/>
<path d="M953.0,704.0 C954.5,704.2 959.4,705.3 962.0,705.0 C964.6,704.7 967.8,703.5 968.5,702.0 C969.2,700.5 966.4,697.0 966.0,696.0" fill="none" stroke="#1a1a1a" stroke-width="7.3" stroke-linecap="round" stroke-linejoin="round"/>
<path d="M953.0,704.0 C954.5,704.2 959.4,705.3 962.0,705.0 C964.6,704.7 967.8,703.5 968.5,702.0 C969.2,700.5 966.4,697.0 966.0,696.0" fill="none" stroke="#cdcdcd" stroke-width="3.5" stroke-linecap="round" stroke-linejoin="round"/>
<path d="M953.0,704.0 C954.5,704.2 959.4,705.3 962.0,705.0 C964.6,704.7 967.8,703.5 968.5,702.0 C969.2,700.5 966.4,697.0 966.0,696.0" fill="none" stroke="#5a5a5a" stroke-width="3.5" stroke-linecap="round" stroke-linejoin="round"/>
<path d="M953.0,704.0 C954.5,704.2 959.4,705.3 962.0,705.0 C964.6,704.7 967.8,703.5 968.5,702.0 C969.2,700.5 966.4,697.0 966.0,696.0" fill="none" stroke="#e4e4e4" stroke-width="2.0" stroke-linecap="butt" stroke-dasharray="1.3 1.9"/>
<path d="M700.0,862.5 l7,-3.8 l3,5.5 l-3.5,2 z" fill="#b0b0b0" stroke="#1c1c1c" stroke-width="1.2" stroke-linejoin="round" stroke-linecap="round" />
<path d="M779.0,817.5 l7,-3.8 l3,5.5 l-3.5,2 z" fill="#b0b0b0" stroke="#1c1c1c" stroke-width="1.2" stroke-linejoin="round" stroke-linecap="round" />
<path d="M870.0,764.0 l7,-3.8 l3,5.5 l-3.5,2 z" fill="#b0b0b0" stroke="#1c1c1c" stroke-width="1.2" stroke-linejoin="round" stroke-linecap="round" />
<path d="M919.0,735.5 l7,-3.8 l3,5.5 l-3.5,2 z" fill="#b0b0b0" stroke="#1c1c1c" stroke-width="1.2" stroke-linejoin="round" stroke-linecap="round" />
<path d="M481.0,820.5 C481.9,819.9 484.1,819.0 486.7,816.7 C489.3,814.4 494.0,809.8 496.7,806.7 C499.4,803.6 501.9,799.5 503.0,798.0" fill="none" stroke="#1a1a1a" stroke-width="6.3" stroke-linecap="round" stroke-linejoin="round"/>
<path d="M481.0,820.5 C481.9,819.9 484.1,819.0 486.7,816.7 C489.3,814.4 494.0,809.8 496.7,806.7 C499.4,803.6 501.9,799.5 503.0,798.0" fill="none" stroke="#cdcdcd" stroke-width="2.5" stroke-linecap="round" stroke-linejoin="round"/>
<path d="M479,822 l3,-2" fill="none" stroke="#111" stroke-width="4" stroke-linejoin="round" stroke-linecap="round" />
<path d="M503.0,798.0 C504.7,798.0 508.5,797.4 513.0,798.0 C517.5,798.6 526.5,799.2 530.0,801.7 C533.5,804.2 531.8,809.5 534.0,813.0 C536.2,816.5 539.8,820.2 543.0,823.0 C546.2,825.8 550.9,827.2 553.0,830.0 C555.1,832.8 554.9,836.7 555.5,840.0 C556.1,843.3 556.0,846.2 556.7,850.0 C557.5,853.8 558.6,860.0 560.0,863.0 C561.4,866.0 562.8,868.5 565.0,868.0 C567.2,867.5 570.5,861.8 573.0,860.0 C575.5,858.2 572.7,857.4 580.0,857.5 C587.3,857.6 607.7,860.2 616.7,860.8 C625.7,861.4 631.1,861.0 634.0,861.0" fill="none" stroke="#1a1a1a" stroke-width="6.7" stroke-linecap="round" stroke-linejoin="round"/>
<path d="M503.0,798.0 C504.7,798.0 508.5,797.4 513.0,798.0 C517.5,798.6 526.5,799.2 530.0,801.7 C533.5,804.2 531.8,809.5 534.0,813.0 C536.2,816.5 539.8,820.2 543.0,823.0 C546.2,825.8 550.9,827.2 553.0,830.0 C555.1,832.8 554.9,836.7 555.5,840.0 C556.1,843.3 556.0,846.2 556.7,850.0 C557.5,853.8 558.6,860.0 560.0,863.0 C561.4,866.0 562.8,868.5 565.0,868.0 C567.2,867.5 570.5,861.8 573.0,860.0 C575.5,858.2 572.7,857.4 580.0,857.5 C587.3,857.6 607.7,860.2 616.7,860.8 C625.7,861.4 631.1,861.0 634.0,861.0" fill="none" stroke="#cdcdcd" stroke-width="2.9" stroke-linecap="round" stroke-linejoin="round"/>
<path d="M494,787 q4,-3 7,1 l4,9 l-5,2 l-4,-7 q-3,-2 -2,-5 z" fill="#e4e4e4" stroke="#1c1c1c" stroke-width="1.5" stroke-linejoin="round" stroke-linecap="round" />
<path d="M551.5,838 l9,-1.5 l0.5,3 l-9,1.5 z" fill="#333" stroke="#111" stroke-width="1.0" stroke-linejoin="round" stroke-linecap="round" />
<path d="M625.0,860.0 C625.0,857.8 625.0,848.8 625.0,846.5" fill="none" stroke="#1a1a1a" stroke-width="5.5" stroke-linecap="butt" stroke-linejoin="round"/>
<path d="M625.0,860.0 C625.0,857.8 625.0,848.8 625.0,846.5" fill="none" stroke="#cdcdcd" stroke-width="2.3" stroke-linecap="butt" stroke-linejoin="round"/>
<path d="M617.5,844 l9,0 l0,3.6 l-9,0 z" fill="#e8e8e8" stroke="#1c1c1c" stroke-width="1.1" stroke-linejoin="round" stroke-linecap="round" />
<path d="M315.0,716.0 C315.0,717.4 315.0,723.1 315.0,724.5" fill="none" stroke="#1a1a1a" stroke-width="4.9" stroke-linecap="butt" stroke-linejoin="round"/>
<path d="M315.0,716.0 C315.0,717.4 315.0,723.1 315.0,724.5" fill="none" stroke="#cdcdcd" stroke-width="1.7" stroke-linecap="butt" stroke-linejoin="round"/>
<path d="M281.0,730.0 C281.1,728.3 280.2,723.0 281.7,720.0 C283.2,717.0 285.8,713.7 290.0,711.7 C294.2,709.7 302.5,707.5 306.7,708.0 C310.9,708.5 312.3,713.0 315.0,715.0 C317.7,717.0 320.0,717.8 323.0,720.0 C326.0,722.2 328.5,725.5 333.0,728.0 C337.5,730.5 342.2,731.0 350.0,735.0 C357.8,739.0 373.3,748.1 380.0,751.7 C386.7,755.3 386.4,754.0 390.0,756.7 C393.6,759.4 397.2,763.6 401.7,768.0 C406.1,772.4 414.0,778.2 416.7,783.0 C419.4,787.8 416.9,792.8 418.0,796.7 C419.1,800.7 420.5,803.4 423.0,806.7 C425.5,810.0 429.9,813.4 433.0,816.7 C436.1,820.0 438.0,824.5 441.7,826.7 C445.4,828.9 450.8,829.8 455.0,830.0 C459.2,830.2 463.7,828.8 466.7,828.0 C469.7,827.2 471.9,825.5 473.0,825.0" fill="none" stroke="#1a1a1a" stroke-width="6.9" stroke-linecap="round" stroke-linejoin="round"/>
<path d="M281.0,730.0 C281.1,728.3 280.2,723.0 281.7,720.0 C283.2,717.0 285.8,713.7 290.0,711.7 C294.2,709.7 302.5,707.5 306.7,708.0 C310.9,708.5 312.3,713.0 315.0,715.0 C317.7,717.0 320.0,717.8 323.0,720.0 C326.0,722.2 328.5,725.5 333.0,728.0 C337.5,730.5 342.2,731.0 350.0,735.0 C357.8,739.0 373.3,748.1 380.0,751.7 C386.7,755.3 386.4,754.0 390.0,756.7 C393.6,759.4 397.2,763.6 401.7,768.0 C406.1,772.4 414.0,778.2 416.7,783.0 C419.4,787.8 416.9,792.8 418.0,796.7 C419.1,800.7 420.5,803.4 423.0,806.7 C425.5,810.0 429.9,813.4 433.0,816.7 C436.1,820.0 438.0,824.5 441.7,826.7 C445.4,828.9 450.8,829.8 455.0,830.0 C459.2,830.2 463.7,828.8 466.7,828.0 C469.7,827.2 471.9,825.5 473.0,825.0" fill="none" stroke="#cdcdcd" stroke-width="3.1" stroke-linecap="round" stroke-linejoin="round"/>
<path d="M281.0,730.0 C281.1,728.3 280.2,723.0 281.7,720.0 C283.2,717.0 285.8,713.7 290.0,711.7 C294.2,709.7 303.9,708.6 306.7,708.0" fill="none" stroke="#1a1a1a" stroke-width="7.3" stroke-linecap="round" stroke-linejoin="round"/>
<path d="M281.0,730.0 C281.1,728.3 280.2,723.0 281.7,720.0 C283.2,717.0 285.8,713.7 290.0,711.7 C294.2,709.7 303.9,708.6 306.7,708.0" fill="none" stroke="#cdcdcd" stroke-width="3.5" stroke-linecap="round" stroke-linejoin="round"/>
<path d="M281.0,730.0 C281.1,728.3 280.2,723.0 281.7,720.0 C283.2,717.0 285.8,713.7 290.0,711.7 C294.2,709.7 303.9,708.6 306.7,708.0" fill="none" stroke="#5a5a5a" stroke-width="3.5" stroke-linecap="round" stroke-linejoin="round"/>
<path d="M281.0,730.0 C281.1,728.3 280.2,723.0 281.7,720.0 C283.2,717.0 285.8,713.7 290.0,711.7 C294.2,709.7 303.9,708.6 306.7,708.0" fill="none" stroke="#e4e4e4" stroke-width="2.0" stroke-linecap="butt" stroke-dasharray="1.3 1.9"/>
<path d="M443.0,827.0 C445.0,827.5 451.1,829.8 455.0,830.0 C458.9,830.2 463.7,828.8 466.7,828.0 C469.7,827.2 471.9,825.5 473.0,825.0" fill="none" stroke="#1a1a1a" stroke-width="7.3" stroke-linecap="round" stroke-linejoin="round"/>
<path d="M443.0,827.0 C445.0,827.5 451.1,829.8 455.0,830.0 C458.9,830.2 463.7,828.8 466.7,828.0 C469.7,827.2 471.9,825.5 473.0,825.0" fill="none" stroke="#cdcdcd" stroke-width="3.5" stroke-linecap="round" stroke-linejoin="round"/>
<path d="M443.0,827.0 C445.0,827.5 451.1,829.8 455.0,830.0 C458.9,830.2 463.7,828.8 466.7,828.0 C469.7,827.2 471.9,825.5 473.0,825.0" fill="none" stroke="#5a5a5a" stroke-width="3.5" stroke-linecap="round" stroke-linejoin="round"/>
<path d="M443.0,827.0 C445.0,827.5 451.1,829.8 455.0,830.0 C458.9,830.2 463.7,828.8 466.7,828.0 C469.7,827.2 471.9,825.5 473.0,825.0" fill="none" stroke="#e4e4e4" stroke-width="2.0" stroke-linecap="butt" stroke-dasharray="1.3 1.9"/>
<path d="M316.0,717.0 l4,-5.5" fill="none" stroke="#1c1c1c" stroke-width="1.6" stroke-linejoin="round" stroke-linecap="round" />
<path d="M348.0,737.0 l4,-5.5" fill="none" stroke="#1c1c1c" stroke-width="1.6" stroke-linejoin="round" stroke-linecap="round" />
<path d="M382.0,756.0 l4,-5.5" fill="none" stroke="#1c1c1c" stroke-width="1.6" stroke-linejoin="round" stroke-linecap="round" />
<path d="M349.0,737.0 C349.2,737.7 349.8,740.3 350.0,741.0" fill="none" stroke="#1a1a1a" stroke-width="4.1" stroke-linecap="round" stroke-linejoin="round"/>
<path d="M349.0,737.0 C349.2,737.7 349.8,740.3 350.0,741.0" fill="none" stroke="#cdcdcd" stroke-width="0.9" stroke-linecap="round" stroke-linejoin="round"/>
<path d="M287.5,690.0 C288.4,688.3 290.6,683.3 293.0,680.0 C295.4,676.7 298.7,672.3 301.7,670.0 C304.7,667.7 309.4,666.7 311.0,666.0" fill="none" stroke="#1a1a1a" stroke-width="6.7" stroke-linecap="round" stroke-linejoin="round"/>
<path d="M287.5,690.0 C288.4,688.3 290.6,683.3 293.0,680.0 C295.4,676.7 298.7,672.3 301.7,670.0 C304.7,667.7 309.4,666.7 311.0,666.0" fill="none" stroke="#cdcdcd" stroke-width="2.9" stroke-linecap="round" stroke-linejoin="round"/>
<path d="M309.0,667.0 C309.8,666.5 312.3,665.2 314.0,664.0 C315.7,662.8 318.2,660.7 319.0,660.0" fill="none" stroke="#1a1a1a" stroke-width="7.3" stroke-linecap="round" stroke-linejoin="round"/>
<path d="M309.0,667.0 C309.8,666.5 312.3,665.2 314.0,664.0 C315.7,662.8 318.2,660.7 319.0,660.0" fill="none" stroke="#cdcdcd" stroke-width="3.5" stroke-linecap="round" stroke-linejoin="round"/>
<path d="M309.0,667.0 C309.8,666.5 312.3,665.2 314.0,664.0 C315.7,662.8 318.2,660.7 319.0,660.0" fill="none" stroke="#5a5a5a" stroke-width="3.5" stroke-linecap="round" stroke-linejoin="round"/>
<path d="M309.0,667.0 C309.8,666.5 312.3,665.2 314.0,664.0 C315.7,662.8 318.2,660.7 319.0,660.0" fill="none" stroke="#e4e4e4" stroke-width="2.0" stroke-linecap="butt" stroke-dasharray="1.3 1.9"/>
<path d="M313.0,655.0 C314.2,655.3 318.2,655.4 320.0,656.7 C321.8,658.0 321.5,659.5 324.0,663.0 C326.5,666.5 332.2,674.5 335.0,678.0 C337.8,681.5 339.8,679.8 340.8,684.0 C341.8,688.2 341.1,698.3 340.8,703.0 C340.5,707.7 338.6,709.7 339.0,712.0 C339.4,714.3 340.9,716.8 343.0,716.7 C345.1,716.7 350.0,714.0 351.7,711.7 C353.4,709.4 351.9,705.5 353.0,703.0 C354.1,700.5 357.2,701.1 358.0,696.7 C358.8,692.3 357.8,681.2 358.0,676.7 C358.2,672.2 359.2,671.1 359.5,670.0" fill="none" stroke="#1a1a1a" stroke-width="6.9" stroke-linecap="round" stroke-linejoin="round"/>
<path d="M313.0,655.0 C314.2,655.3 318.2,655.4 320.0,656.7 C321.8,658.0 321.5,659.5 324.0,663.0 C326.5,666.5 332.2,674.5 335.0,678.0 C337.8,681.5 339.8,679.8 340.8,684.0 C341.8,688.2 341.1,698.3 340.8,703.0 C340.5,707.7 338.6,709.7 339.0,712.0 C339.4,714.3 340.9,716.8 343.0,716.7 C345.1,716.7 350.0,714.0 351.7,711.7 C353.4,709.4 351.9,705.5 353.0,703.0 C354.1,700.5 357.2,701.1 358.0,696.7 C358.8,692.3 357.8,681.2 358.0,676.7 C358.2,672.2 359.2,671.1 359.5,670.0" fill="none" stroke="#cdcdcd" stroke-width="3.1" stroke-linecap="round" stroke-linejoin="round"/>
<ellipse cx="314.0" cy="655.5" rx="2.6" ry="3.2" fill="#e8e8e8" stroke="#1c1c1c" stroke-width="1.2" transform="rotate(-40.0 314.0 655.5)"/>
<path d="M358.5,668 l8,0 l0,6 l-8,0 z" fill="#e4e4e4" stroke="#1c1c1c" stroke-width="1.2" stroke-linejoin="round" stroke-linecap="round" />
<path d="M338,707 l6,0" fill="none" stroke="#1c1c1c" stroke-width="1.2" stroke-linejoin="round" stroke-linecap="round" />
<path d="M355.5,680 l5,0" fill="none" stroke="#1c1c1c" stroke-width="1.2" stroke-linejoin="round" stroke-linecap="round" />
</g>
<!-- 40_parts.svg -->
<g id="smallparts">
<polygon points="305.5,246.5 307.5,248.0 307.5,263.0 312.0,269.0 311.5,273.0 308.0,275.0 305.0,273.5 294.0,281.5 288.0,281.0 284.5,285.0 282.0,283.0 283.0,280.0 287.0,277.5 283.0,271.0 283.5,261.5 286.0,259.5 290.0,259.0" fill="#3a3a3a" stroke="#141414" stroke-width="1.8" stroke-linejoin="round" />
<polygon points="292.5,268.5 301.0,256.2 303.0,257.5 296.0,268.5" fill="#f6f6f6" stroke="#222" stroke-width="0.4" stroke-linejoin="round" />
<polygon points="297.2,271.0 304.8,259.5 305.3,265.5 300.5,272.0" fill="#f6f6f6" stroke="#222" stroke-width="0.4" stroke-linejoin="round" />
<polygon points="287.5,263.5 291.0,261.5 290.0,266.5" fill="#eaeaea" stroke="#222" stroke-width="0.4" stroke-linejoin="round" />
<path d="M286,272 q4,4 8,3" fill="none" stroke="#8a8a8a" stroke-width="1" stroke-linejoin="round" stroke-linecap="round" />
<ellipse cx="309.0" cy="271.5" rx="2.2" ry="2.4" fill="#555" stroke="#141414" stroke-width="1.0"/>
<line x1="362.0" y1="258.0" x2="350.5" y2="252.3" stroke="#1a1a1a" stroke-width="5.6" stroke-linecap="round"/>
<line x1="362.0" y1="258.0" x2="350.5" y2="252.3" stroke="#6a6a6a" stroke-width="3.4" stroke-dasharray="1 1.2"/>
<circle cx="362.0" cy="258.0" r="5.0" fill="#555" stroke="#161616" stroke-width="1.2"/>
<path d="M311,285 L315,282 L321,280 L330,266 L331,263 L337,264 L338,268 L346,273 L350,271 L353,270 L361,276 L362,279 L359,282 L352,280 L350,284 L349,289 L347,293 L355,297 L357,300 L354,303 L347,300 L343,297 L340,299 L339,303 L335,304 L329,300 L327,296 L320,298 L318,300 L313,298 L311,292 Z" fill="#565656" stroke="#141414" stroke-width="1.7" stroke-linejoin="round" stroke-linecap="round" />
<polygon points="323.0,280.0 331.0,267.0 335.5,269.0 328.0,282.5" fill="#b4b4b4" stroke="#222" stroke-width="0.8" stroke-linejoin="round" />
<polygon points="334.0,272.0 341.0,270.0 348.0,275.0 346.0,281.0 339.0,282.0" fill="#ececec" stroke="#222" stroke-width="0.8" stroke-linejoin="round" />
<polygon points="349.5,272.0 353.5,270.5 361.0,276.5 359.5,281.0 356.0,282.0 349.0,278.0" fill="#f6f6f6" stroke="#1a1a1a" stroke-width="1.1" stroke-linejoin="round" />
<polygon points="346.0,294.0 355.5,298.0 354.0,302.5 345.0,299.0" fill="#f6f6f6" stroke="#1a1a1a" stroke-width="1.1" stroke-linejoin="round" />
<polygon points="329.5,295.5 339.0,299.0 338.0,303.5 329.0,300.5" fill="#f4f4f4" stroke="#1a1a1a" stroke-width="1.1" stroke-linejoin="round" />
<polygon points="312.0,285.5 318.5,283.0 320.0,288.5 314.0,291.0" fill="#ededed" stroke="#222" stroke-width="0.9" stroke-linejoin="round" />
<polygon points="313.0,293.0 318.0,292.0 319.0,297.0 315.0,298.0" fill="#9a9a9a" stroke="#222" stroke-width="0.8" stroke-linejoin="round" />
<polygon points="321.0,283.0 327.0,284.0 326.0,290.0 320.0,290.0" fill="#dcdcdc" stroke="#222" stroke-width="0.7" stroke-linejoin="round" />
<ellipse cx="342.0" cy="289.0" rx="5.0" ry="4.0" fill="#767676" stroke="#1a1a1a" stroke-width="1.0" transform="rotate(-20.0 342.0 289.0)"/>
<path d="M332,285 q4,6 10,8 M326,284 l6,2 M336,283 l8,3" fill="none" stroke="#e4e4e4" stroke-width="1.2" stroke-linejoin="round" stroke-linecap="round" />
<ellipse cx="324.0" cy="292.5" rx="3.0" ry="3.0" fill="#707070" stroke="#111" stroke-width="0.9"/>
<g transform="translate(300.5 305.0) rotate(10.0) scale(1.00)">
<path d="M-6.2,1.5 Q-6.6,-4.5 -1,-6.6 Q4.5,-6.8 6.2,-1 Q6.4,4 2,6 Q-1,7.4 -4,6 Q-6.4,4.5 -6.2,1.5 Z" fill="#242424" stroke="#101010" stroke-width="1"/>
<path d="M-3.2,-2.2 Q-0.5,-4 1.5,-2.8 L5,3 Q3,5 1,4.6 Z" fill="#8c8c8c"/>
<path d="M-4.2,0.5 Q-2.5,-2.5 0,-2" fill="none" stroke="#6a6a6a" stroke-width="1.2"/>
</g>
<g transform="translate(354.0 325.0) rotate(5.0) scale(1.00)">
<path d="M-6.2,1.5 Q-6.6,-4.5 -1,-6.6 Q4.5,-6.8 6.2,-1 Q6.4,4 2,6 Q-1,7.4 -4,6 Q-6.4,4.5 -6.2,1.5 Z" fill="#242424" stroke="#101010" stroke-width="1"/>
<path d="M-3.2,-2.2 Q-0.5,-4 1.5,-2.8 L5,3 Q3,5 1,4.6 Z" fill="#8c8c8c"/>
<path d="M-4.2,0.5 Q-2.5,-2.5 0,-2" fill="none" stroke="#6a6a6a" stroke-width="1.2"/>
</g>
<g transform="translate(308.0 357.0) rotate(50.0) scale(1.00)">
<path d="M-6.2,1.5 Q-6.6,-4.5 -1,-6.6 Q4.5,-6.8 6.2,-1 Q6.4,4 2,6 Q-1,7.4 -4,6 Q-6.4,4.5 -6.2,1.5 Z" fill="#242424" stroke="#101010" stroke-width="1"/>
<path d="M-3.2,-2.2 Q-0.5,-4 1.5,-2.8 L5,3 Q3,5 1,4.6 Z" fill="#8c8c8c"/>
<path d="M-4.2,0.5 Q-2.5,-2.5 0,-2" fill="none" stroke="#6a6a6a" stroke-width="1.2"/>
</g>
<g transform="translate(483.3 214.7) rotate(0.0) scale(1.00)">
<path d="M-6.2,1.5 Q-6.6,-4.5 -1,-6.6 Q4.5,-6.8 6.2,-1 Q6.4,4 2,6 Q-1,7.4 -4,6 Q-6.4,4.5 -6.2,1.5 Z" fill="#242424" stroke="#101010" stroke-width="1"/>
<path d="M-3.2,-2.2 Q-0.5,-4 1.5,-2.8 L5,3 Q3,5 1,4.6 Z" fill="#8c8c8c"/>
<path d="M-4.2,0.5 Q-2.5,-2.5 0,-2" fill="none" stroke="#6a6a6a" stroke-width="1.2"/>
</g>
<g transform="translate(495.3 228.3) rotate(0.0) scale(1.00)">
<path d="M-6.2,1.5 Q-6.6,-4.5 -1,-6.6 Q4.5,-6.8 6.2,-1 Q6.4,4 2,6 Q-1,7.4 -4,6 Q-6.4,4.5 -6.2,1.5 Z" fill="#242424" stroke="#101010" stroke-width="1"/>
<path d="M-3.2,-2.2 Q-0.5,-4 1.5,-2.8 L5,3 Q3,5 1,4.6 Z" fill="#8c8c8c"/>
<path d="M-4.2,0.5 Q-2.5,-2.5 0,-2" fill="none" stroke="#6a6a6a" stroke-width="1.2"/>
</g>
<g transform="translate(465.0 388.0) rotate(30.0) scale(1.00)">
<path d="M-6.2,1.5 Q-6.6,-4.5 -1,-6.6 Q4.5,-6.8 6.2,-1 Q6.4,4 2,6 Q-1,7.4 -4,6 Q-6.4,4.5 -6.2,1.5 Z" fill="#242424" stroke="#101010" stroke-width="1"/>
<path d="M-3.2,-2.2 Q-0.5,-4 1.5,-2.8 L5,3 Q3,5 1,4.6 Z" fill="#8c8c8c"/>
<path d="M-4.2,0.5 Q-2.5,-2.5 0,-2" fill="none" stroke="#6a6a6a" stroke-width="1.2"/>
</g>
<g transform="translate(499.5 361.6) rotate(0.0) scale(1.00)">
<path d="M-6.2,1.5 Q-6.6,-4.5 -1,-6.6 Q4.5,-6.8 6.2,-1 Q6.4,4 2,6 Q-1,7.4 -4,6 Q-6.4,4.5 -6.2,1.5 Z" fill="#242424" stroke="#101010" stroke-width="1"/>
<path d="M-3.2,-2.2 Q-0.5,-4 1.5,-2.8 L5,3 Q3,5 1,4.6 Z" fill="#8c8c8c"/>
<path d="M-4.2,0.5 Q-2.5,-2.5 0,-2" fill="none" stroke="#6a6a6a" stroke-width="1.2"/>
</g>
<g transform="translate(494.3 413.5) rotate(5.0) scale(1.00)">
<path d="M-6.2,1.5 Q-6.6,-4.5 -1,-6.6 Q4.5,-6.8 6.2,-1 Q6.4,4 2,6 Q-1,7.4 -4,6 Q-6.4,4.5 -6.2,1.5 Z" fill="#242424" stroke="#101010" stroke-width="1"/>
<path d="M-3.2,-2.2 Q-0.5,-4 1.5,-2.8 L5,3 Q3,5 1,4.6 Z" fill="#8c8c8c"/>
<path d="M-4.2,0.5 Q-2.5,-2.5 0,-2" fill="none" stroke="#6a6a6a" stroke-width="1.2"/>
</g>
<g transform="translate(680.0 413.3) rotate(-30.0) scale(1.00)">
<path d="M-6.2,1.5 Q-6.6,-4.5 -1,-6.6 Q4.5,-6.8 6.2,-1 Q6.4,4 2,6 Q-1,7.4 -4,6 Q-6.4,4.5 -6.2,1.5 Z" fill="#242424" stroke="#101010" stroke-width="1"/>
<path d="M-3.2,-2.2 Q-0.5,-4 1.5,-2.8 L5,3 Q3,5 1,4.6 Z" fill="#8c8c8c"/>
<path d="M-4.2,0.5 Q-2.5,-2.5 0,-2" fill="none" stroke="#6a6a6a" stroke-width="1.2"/>
</g>
<g transform="translate(715.3 407.5) rotate(-45.0) scale(1.00)">
<path d="M-6.2,1.5 Q-6.6,-4.5 -1,-6.6 Q4.5,-6.8 6.2,-1 Q6.4,4 2,6 Q-1,7.4 -4,6 Q-6.4,4.5 -6.2,1.5 Z" fill="#242424" stroke="#101010" stroke-width="1"/>
<path d="M-3.2,-2.2 Q-0.5,-4 1.5,-2.8 L5,3 Q3,5 1,4.6 Z" fill="#8c8c8c"/>
<path d="M-4.2,0.5 Q-2.5,-2.5 0,-2" fill="none" stroke="#6a6a6a" stroke-width="1.2"/>
</g>
<g transform="translate(863.3 420.8) rotate(5.0) scale(1.00)">
<path d="M-6.2,1.5 Q-6.6,-4.5 -1,-6.6 Q4.5,-6.8 6.2,-1 Q6.4,4 2,6 Q-1,7.4 -4,6 Q-6.4,4.5 -6.2,1.5 Z" fill="#242424" stroke="#101010" stroke-width="1"/>
<path d="M-3.2,-2.2 Q-0.5,-4 1.5,-2.8 L5,3 Q3,5 1,4.6 Z" fill="#8c8c8c"/>
<path d="M-4.2,0.5 Q-2.5,-2.5 0,-2" fill="none" stroke="#6a6a6a" stroke-width="1.2"/>
</g>
<g transform="translate(904.0 554.0) rotate(5.0) scale(1.00)">
<path d="M-6.2,1.5 Q-6.6,-4.5 -1,-6.6 Q4.5,-6.8 6.2,-1 Q6.4,4 2,6 Q-1,7.4 -4,6 Q-6.4,4.5 -6.2,1.5 Z" fill="#242424" stroke="#101010" stroke-width="1"/>
<path d="M-3.2,-2.2 Q-0.5,-4 1.5,-2.8 L5,3 Q3,5 1,4.6 Z" fill="#8c8c8c"/>
<path d="M-4.2,0.5 Q-2.5,-2.5 0,-2" fill="none" stroke="#6a6a6a" stroke-width="1.2"/>
</g>
<path d="M352,655 l9,0 l1,3 l-2,4 l0,5 l-5,0 l0,-5 l-3,-4 z" fill="#e8e8e8" stroke="#161616" stroke-width="1.4" stroke-linejoin="round" stroke-linecap="round" />
<ellipse cx="356.7" cy="655.5" rx="5.0" ry="2.2" fill="#8a8a8a" stroke="#161616" stroke-width="1.2"/>
<ellipse cx="642.5" cy="860.8" rx="4.6" ry="8.6" fill="#4c4c4c" stroke="#141414" stroke-width="1.5" transform="rotate(8.0 642.5 860.8)"/>
<ellipse cx="641.5" cy="860.8" rx="2.2" ry="5.2" fill="#8a8a8a" stroke="#222" stroke-width="0.8" transform="rotate(8.0 641.5 860.8)"/>
<g transform="translate(720.0 446.0)">
<path d="M-6.0,-1 L-3.6,-5.1 L3.6,-5.1 L6.0,-1 L5.7,3.5 Q0,6.3 -5.7,3.5 Z" fill="#5a5a5a" stroke="#161616" stroke-width="1.3"/>
<ellipse cx="0" cy="-1.5" rx="3.0" ry="1.9" fill="#8a8a8a" stroke="#222" stroke-width="0.8"/>
</g>
<g transform="translate(919.5 601.7)">
<path d="M-6.0,-1 L-3.6,-5.1 L3.6,-5.1 L6.0,-1 L5.7,3.5 Q0,6.3 -5.7,3.5 Z" fill="#5a5a5a" stroke="#161616" stroke-width="1.3"/>
<ellipse cx="0" cy="-1.5" rx="3.0" ry="1.9" fill="#8a8a8a" stroke="#222" stroke-width="0.8"/>
</g>
<g transform="translate(511.7 781.7)">
<path d="M-6.0,-1 L-3.6,-5.1 L3.6,-5.1 L6.0,-1 L5.7,3.5 Q0,6.3 -5.7,3.5 Z" fill="#5a5a5a" stroke="#161616" stroke-width="1.3"/>
<ellipse cx="0" cy="-1.5" rx="3.0" ry="1.9" fill="#8a8a8a" stroke="#222" stroke-width="0.8"/>
</g>
<g transform="translate(620.8 883.3)">
<path d="M-6.0,-1 L-3.6,-5.1 L3.6,-5.1 L6.0,-1 L5.7,3.5 Q0,6.3 -5.7,3.5 Z" fill="#5a5a5a" stroke="#161616" stroke-width="1.3"/>
<ellipse cx="0" cy="-1.5" rx="3.0" ry="1.9" fill="#8a8a8a" stroke="#222" stroke-width="0.8"/>
</g>
<line x1="711.5" y1="455.8" x2="700.5" y2="461.3" stroke="#1a1a1a" stroke-width="4.6" stroke-linecap="round"/>
<line x1="711.5" y1="455.8" x2="700.5" y2="461.3" stroke="#6a6a6a" stroke-width="2.4" stroke-dasharray="1 1.2"/>
<circle cx="711.5" cy="455.8" r="4.2" fill="#555" stroke="#161616" stroke-width="1.2"/>
<line x1="788.0" y1="457.8" x2="777.5" y2="463.0" stroke="#1a1a1a" stroke-width="4.6" stroke-linecap="round"/>
<line x1="788.0" y1="457.8" x2="777.5" y2="463.0" stroke="#6a6a6a" stroke-width="2.4" stroke-dasharray="1 1.2"/>
<circle cx="788.0" cy="457.8" r="4.2" fill="#555" stroke="#161616" stroke-width="1.2"/>
<line x1="959.5" y1="624.8" x2="950.0" y2="629.0" stroke="#1a1a1a" stroke-width="4.4" stroke-linecap="round"/>
<line x1="959.5" y1="624.8" x2="950.0" y2="629.0" stroke="#6a6a6a" stroke-width="2.2" stroke-dasharray="1 1.2"/>
<circle cx="959.5" cy="624.8" r="4.0" fill="#555" stroke="#161616" stroke-width="1.2"/>
<line x1="921.5" y1="557.0" x2="938.0" y2="549.0" stroke="#1a1a1a" stroke-width="5.2" stroke-linecap="round" />
<line x1="922.5" y1="556.5" x2="937.0" y2="549.5" stroke="#777" stroke-width="2.4" stroke-linecap="round" stroke-dasharray="1.2 1.2"/>
<ellipse cx="927.5" cy="554.0" rx="2.2" ry="4.8" fill="#444" stroke="#111" stroke-width="1.2" transform="rotate(-25.0 927.5 554.0)"/>
<line x1="525.5" y1="452.0" x2="525.5" y2="459.0" stroke="#1a1a1a" stroke-width="2.8" stroke-linecap="round" />
<ellipse cx="525.7" cy="461.3" rx="3.3" ry="3.0" fill="#444" stroke="#111" stroke-width="1.0"/>
<ellipse cx="566.0" cy="423.0" rx="3.2" ry="2.6" fill="#555" stroke="#111" stroke-width="1.2" transform="rotate(30.0 566.0 423.0)"/>
<line x1="563.5" y1="421.5" x2="568.5" y2="424.5" stroke="#ccc" stroke-width="0.8" stroke-linecap="round" />
<ellipse cx="545.6" cy="410.6" rx="6.0" ry="4.8" fill="#ededed" stroke="#141414" stroke-width="1.6" transform="rotate(30.0 545.6 410.6)"/>
<ellipse cx="543.5" cy="409.5" rx="2.8" ry="3.6" fill="#3a3a3a" stroke="#111" stroke-width="0.8" transform="rotate(30.0 543.5 409.5)"/>
<polygon points="452.0,355.0 454.0,352.5 457.5,351.7 472.7,352.8 480.0,357.0 484.0,362.0 485.0,368.0 483.0,376.0 476.5,381.5 470.0,380.0 463.0,377.0 455.0,372.7 451.7,367.0" fill="#c6c6c6" stroke="#141414" stroke-width="1.8" stroke-linejoin="round" />
<polygon points="452.0,355.0 454.0,352.5 457.5,351.7 463.0,352.0 459.0,358.0 457.0,365.0 458.0,373.0 455.0,372.7 451.7,367.0" fill="#474747" stroke="#141414" stroke-width="1.0" stroke-linejoin="round" />
<ellipse cx="477.2" cy="371.0" rx="6.4" ry="9.4" fill="#777" stroke="#141414" stroke-width="1.4" transform="rotate(28.0 477.2 371.0)"/>
<polygon points="458.0,366.5 467.0,370.0 469.5,379.5 463.0,377.0 456.5,373.0" fill="#4c4c4c" stroke="#141414" stroke-width="1.0" stroke-linejoin="round" />
<path d="M460.5,370.5 l6,2.5 M461,373.5 l6,2.5 M461.5,376 l5,2" fill="none" stroke="#d8d8d8" stroke-width="0.9" stroke-linejoin="round" stroke-linecap="round" />
<path d="M464,354 q-4,6 -2.5,12 M470,355 q-4,6 -2,14" fill="none" stroke="#333" stroke-width="1.0" stroke-linejoin="round" stroke-linecap="round" />
<ellipse cx="455.0" cy="356.0" rx="2.0" ry="2.0" fill="#888" stroke="#111" stroke-width="0.8"/>
<polygon points="504.7,392.5 519.3,383.0 526.0,385.5 534.5,391.0 534.5,412.0 533.0,420.5 527.5,421.7 524.0,416.0 514.7,418.0 512.0,414.7 515.8,409.0 511.0,400.7" fill="#5a5a5a" stroke="#141414" stroke-width="1.7" stroke-linejoin="round" />
<polygon points="506.0,392.5 519.5,384.5 532.0,391.5 520.0,399.5" fill="#b4b4b4" stroke="#222" stroke-width="0.9" stroke-linejoin="round" />
<polygon points="508.0,395.0 520.0,401.0 520.0,408.0 513.0,404.0" fill="#8a8a8a" stroke="#222" stroke-width="0.8" stroke-linejoin="round" />
<polygon points="522.0,400.0 533.0,394.0 533.0,412.0 524.0,415.0" fill="#6a6a6a" stroke="#222" stroke-width="0.8" stroke-linejoin="round" />
<ellipse cx="516.0" cy="414.5" rx="1.8" ry="1.8" fill="#f0f0f0" stroke="#111" stroke-width="0.8"/>
<ellipse cx="529.5" cy="419.0" rx="1.8" ry="1.8" fill="#f0f0f0" stroke="#111" stroke-width="0.8"/>
<path d="M522,398 l4,-2 l2,2 M524,404 l6,-3 M524,408 l6,4" fill="none" stroke="#ddd" stroke-width="0.9" stroke-linejoin="round" stroke-linecap="round" />
<line x1="525.5" y1="380.0" x2="525.5" y2="384.5" stroke="#333" stroke-width="1.2" stroke-linecap="round" />
<path d="M503.0,429.5 C503.2,430.8 503.8,434.6 504.5,437.0 C505.2,439.4 505.5,442.1 507.0,444.0 C508.5,445.9 511.4,448.3 513.5,448.3 C515.6,448.3 517.8,446.2 519.5,444.0 C521.2,441.8 522.5,438.2 523.5,435.0 C524.5,431.8 525.0,426.7 525.3,425.0" fill="none" stroke="#1a1a1a" stroke-width="4.2" stroke-linecap="round" stroke-linejoin="round"/>
<path d="M503.0,429.5 C503.2,430.8 503.8,434.6 504.5,437.0 C505.2,439.4 505.5,442.1 507.0,444.0 C508.5,445.9 511.4,448.3 513.5,448.3 C515.6,448.3 517.8,446.2 519.5,444.0 C521.2,441.8 522.5,438.2 523.5,435.0 C524.5,431.8 525.0,426.7 525.3,425.0" fill="none" stroke="#e8e8e8" stroke-width="1.4" stroke-linecap="round" stroke-linejoin="round"/>
<path d="M502.0,429.0 C502.8,429.3 505.4,429.2 506.5,431.0 C507.6,432.8 508.2,438.5 508.5,440.0" fill="none" stroke="#1a1a1a" stroke-width="3.5" stroke-linecap="round" stroke-linejoin="round"/>
<path d="M502.0,429.0 C502.8,429.3 505.4,429.2 506.5,431.0 C507.6,432.8 508.2,438.5 508.5,440.0" fill="none" stroke="#e8e8e8" stroke-width="0.9" stroke-linecap="round" stroke-linejoin="round"/>
<g>
<polygon points="898.3,394.0 964.6,400.0 964.6,427.0 898.3,427.0" fill="#878787" stroke="#1a1a1a" stroke-width="1.0" stroke-linejoin="round" />
<path d="M898.3,396 L898.3,427" fill="none" stroke="#141414" stroke-width="2.2" stroke-linejoin="round" stroke-linecap="round" />
<path d="M907,401 L908,427 M913,404 L914,427" fill="none" stroke="#4a4a4a" stroke-width="1.2" stroke-linejoin="round" stroke-linecap="round" />
<path d="M940,423 L940,427 M956,410 L956,427" fill="none" stroke="#444" stroke-width="1.0" stroke-linejoin="round" stroke-linecap="round" />
<polygon points="909.0,368.0 910.0,362.5 913.0,359.0 917.5,358.0 922.0,360.0 926.7,362.5 934.0,361.0 941.7,361.7 947.0,357.0 953.0,353.0 957.5,355.0 960.0,361.7 964.6,369.0 964.6,412.0 955.0,418.0 940.0,423.5 930.0,415.0 916.0,405.0 898.3,398.0 896.0,392.0 899.0,388.0 902.5,380.0" fill="#c4c4c4" stroke="#141414" stroke-width="2.0" stroke-linejoin="round" />
<path d="M897.5,394 L916,403 L930,413 L940,421.5 L955,416 L964.6,410" fill="none" stroke="#1c1c1c" stroke-width="3.4" stroke-linejoin="round" stroke-linecap="round" />
<path d="M900,390 L918,398 L932,406 L944,414 L964.6,404" fill="none" stroke="#2a2a2a" stroke-width="1.6" stroke-linejoin="round" stroke-linecap="round" />
<path d="M913,366 L964.6,390" fill="none" stroke="#1c1c1c" stroke-width="2.3" stroke-linejoin="round" stroke-linecap="round" />
<path d="M921,361 L964.6,381" fill="none" stroke="#1c1c1c" stroke-width="2.3" stroke-linejoin="round" stroke-linecap="round" />
<path d="M934,361 L964.6,374" fill="none" stroke="#1c1c1c" stroke-width="2.3" stroke-linejoin="round" stroke-linecap="round" />
<path d="M906,376 L948,400" fill="none" stroke="#1c1c1c" stroke-width="2.3" stroke-linejoin="round" stroke-linecap="round" />
<path d="M903,383 L935,403" fill="none" stroke="#1c1c1c" stroke-width="2.3" stroke-linejoin="round" stroke-linecap="round" />
<path d="M913,392 L941,372" fill="none" stroke="#1c1c1c" stroke-width="2.3" stroke-linejoin="round" stroke-linecap="round" />
<path d="M921,396 L952,372" fill="none" stroke="#1c1c1c" stroke-width="2.3" stroke-linejoin="round" stroke-linecap="round" />
<path d="M931,386 L957,362" fill="none" stroke="#1c1c1c" stroke-width="2.3" stroke-linejoin="round" stroke-linecap="round" />
<path d="M941,392 L964.6,378" fill="none" stroke="#1c1c1c" stroke-width="2.3" stroke-linejoin="round" stroke-linecap="round" />
<path d="M910,380 L925,366" fill="none" stroke="#1c1c1c" stroke-width="2.3" stroke-linejoin="round" stroke-linecap="round" />
<path d="M917,372 L964.6,396" fill="none" stroke="#3a3a3a" stroke-width="1.2" stroke-linejoin="round" stroke-linecap="round" />
<path d="M927,364 L964.6,385" fill="none" stroke="#3a3a3a" stroke-width="1.2" stroke-linejoin="round" stroke-linecap="round" />
<path d="M909,372 L940,390" fill="none" stroke="#3a3a3a" stroke-width="1.2" stroke-linejoin="round" stroke-linecap="round" />
<path d="M917,395 L947,372" fill="none" stroke="#3a3a3a" stroke-width="1.2" stroke-linejoin="round" stroke-linecap="round" />
<path d="M936,389 L962,368" fill="none" stroke="#3a3a3a" stroke-width="1.2" stroke-linejoin="round" stroke-linecap="round" />
<polygon points="910.0,362.0 917.0,358.5 922.0,361.0 921.0,367.0 914.0,370.0 909.0,368.0" fill="#2e2e2e" stroke="#111" stroke-width="1.0" stroke-linejoin="round" />
<polygon points="948.0,356.0 953.0,353.0 957.5,355.0 960.0,362.0 955.0,365.0 949.0,361.0" fill="#3a3a3a" stroke="#111" stroke-width="1.0" stroke-linejoin="round" />
<ellipse cx="956.5" cy="360.0" rx="1.8" ry="2.6" fill="#bbb" stroke="#222" stroke-width="0.6"/>
<path d="M912,364 l5,-3 M914,367 l5,-3" fill="none" stroke="#ddd" stroke-width="1.0" stroke-linejoin="round" stroke-linecap="round" />
<polygon points="903.0,382.0 912.0,379.0 918.0,384.0 915.0,392.0 906.0,393.0 901.0,389.0" fill="#444" stroke="#111" stroke-width="1.0" stroke-linejoin="round" />
<path d="M905,386 l8,-2 M906,390 l8,-2" fill="none" stroke="#ccc" stroke-width="1.0" stroke-linejoin="round" stroke-linecap="round" />
<path d="M915,378 Q920,368 926,363" fill="none" stroke="#f0f0f0" stroke-width="1.8" stroke-linejoin="round" stroke-linecap="round" />
<polygon points="932.0,387.0 946.0,383.5 960.0,393.0 948.0,400.0" fill="#fafafa" stroke="#141414" stroke-width="2.0" stroke-linejoin="round" />
<polygon points="919.0,400.0 931.0,396.0 940.0,402.5 929.0,408.0" fill="#bdbdbd" stroke="#222" stroke-width="1.0" stroke-linejoin="round" />
<polygon points="933.0,409.0 942.0,405.0 948.0,409.5 939.0,414.5" fill="#dadada" stroke="#222" stroke-width="1.0" stroke-linejoin="round" />
<polygon points="941.0,418.0 948.0,413.0 952.0,416.0 945.0,421.0" fill="#f2f2f2" stroke="#222" stroke-width="0.8" stroke-linejoin="round" />
<path d="M955,404 q4,6 3,20" fill="none" stroke="#707070" stroke-width="2.4" stroke-linejoin="round" stroke-linecap="round" />
<ellipse cx="961.0" cy="402.0" rx="2.0" ry="2.0" fill="#d0d0d0" stroke="#222" stroke-width="0.8"/>
<ellipse cx="958.5" cy="424.5" rx="2.0" ry="2.0" fill="#444" stroke="#111" stroke-width="0.8"/>
<path d="M891.7,382 L899,382.5 L899.5,387 L892,387 Z" fill="#555" stroke="#141414" stroke-width="1.5" stroke-linejoin="round" stroke-linecap="round" />
</g>
</g>
<!-- 90_labels.svg -->
<g id="labels">
<text transform="translate(508.3 200.0) scale(0.915 1)">41</text>
<text transform="translate(295.8 234.2) scale(0.915 1)">17</text>
<text transform="translate(355.8 229.2) scale(0.915 1)">16</text>
<text transform="translate(495.0 286.7) scale(0.915 1)">31</text>
<text transform="translate(417.5 288.8) scale(0.915 1)">19</text>
<text transform="translate(301.7 333.0) scale(0.915 1)">18</text>
<text transform="translate(328.0 327.5) scale(0.915 1)">15</text>
<text transform="translate(339.2 353.3) scale(0.915 1)">41</text>
<text transform="translate(406.7 353.3) scale(0.915 1)">20</text>
<text transform="translate(475.0 330.8) scale(0.915 1)">21</text>
<text transform="translate(502.5 334.2) scale(0.915 1)">25</text>
<text transform="translate(315.8 384.2) scale(0.915 1)">41</text>
<text transform="translate(373.7 421.7) scale(0.915 1)">14</text>
<text transform="translate(440.0 390.5) scale(0.915 1)">41</text>
<text transform="translate(493.3 387.5) scale(0.915 1)">40</text>
<text transform="translate(562.5 400.8) scale(0.915 1)">24</text>
<text transform="translate(440.5 414.0) scale(0.915 1)">28</text>
<text transform="translate(547.5 438.3) scale(0.915 1)">22</text>
<text transform="translate(568.3 449.0) scale(0.915 1)">23</text>
<text transform="translate(481.7 445.0) scale(0.915 1)">26</text>
<text transform="translate(502.5 465.0) scale(0.915 1)">27</text>
<text transform="translate(670.8 390.8) scale(0.915 1)">41</text>
<text transform="translate(696.7 386.7) scale(0.915 1)">12</text>
<text transform="translate(723.3 385.0) scale(0.915 1)">40</text>
<text transform="translate(864.2 395.8) scale(0.915 1)">41</text>
<text transform="translate(934.2 342.5) scale(0.915 1)">34</text>
<text transform="translate(706.7 439.2) scale(0.915 1)">11</text>
<text transform="translate(751.7 446.7) scale(0.915 1)">10</text>
<text transform="translate(790.8 436.7) scale(0.915 1)">11</text>
<text transform="translate(759.7 489.2) scale(0.915 1)">9</text>
<text transform="translate(855.8 484.7) scale(0.915 1)">8</text>
<text transform="translate(575.5 499.5) scale(0.915 1)">13</text>
<text transform="translate(910.0 516.7) scale(0.915 1)">41</text>
<text transform="translate(937.0 529.2) scale(0.915 1)">7</text>
<text transform="translate(956.7 580.8) scale(0.915 1)">4</text>
<text transform="translate(903.3 585.0) scale(0.915 1)">5</text>
<text transform="translate(960.8 603.0) scale(0.915 1)">6</text>
<text transform="translate(319.2 632.5) scale(0.915 1)">32</text>
<text transform="translate(390.8 663.3) scale(0.915 1)">41</text>
<text transform="translate(793.7 728.0) scale(0.915 1)">33</text>
<text transform="translate(400.0 738.3) scale(0.915 1)">30</text>
<text transform="translate(818.7 769.5) scale(0.915 1)">3</text>
<text transform="translate(540.8 784.2) scale(0.915 1)">2</text>
<text transform="translate(647.0 830.8) scale(0.915 1)">41</text>
<text transform="translate(649.7 886.7) scale(0.915 1)">2</text>
<text transform="translate(589.7 835) scale(0.915 1)" style="fill:#2e2e2a;stroke:#2e2e2a">1</text>
<line x1="504.0" y1="202.5" x2="492.5" y2="209.0" stroke="#1c1c1c" stroke-width="1.5" stroke-linecap="round"/>
<line x1="504.0" y1="202.5" x2="500.8" y2="218.0" stroke="#1c1c1c" stroke-width="1.5" stroke-linecap="round"/>
<line x1="295.3" y1="237.5" x2="295.3" y2="250.0" stroke="#1c1c1c" stroke-width="1.5" stroke-linecap="round"/>
<line x1="356.7" y1="233.0" x2="356.7" y2="245.8" stroke="#1c1c1c" stroke-width="1.5" stroke-linecap="round"/>
<line x1="493.0" y1="256.0" x2="493.0" y2="270.0" stroke="#1c1c1c" stroke-width="1.5" stroke-linecap="round"/>
<line x1="418.7" y1="293.3" x2="418.7" y2="305.0" stroke="#1c1c1c" stroke-width="1.5" stroke-linecap="round"/>
<line x1="302.5" y1="311.7" x2="302.5" y2="319.0" stroke="#1c1c1c" stroke-width="1.5" stroke-linecap="round"/>
<line x1="328.3" y1="300.0" x2="328.3" y2="310.0" stroke="#1c1c1c" stroke-width="1.5" stroke-linecap="round"/>
<line x1="343.0" y1="337.5" x2="350.0" y2="330.0" stroke="#1c1c1c" stroke-width="1.5" stroke-linecap="round"/>
<line x1="407.5" y1="330.0" x2="407.5" y2="338.0" stroke="#1c1c1c" stroke-width="1.5" stroke-linecap="round"/>
<line x1="473.3" y1="335.0" x2="473.3" y2="346.7" stroke="#1c1c1c" stroke-width="1.5" stroke-linecap="round"/>
<line x1="502.0" y1="339.0" x2="502.0" y2="351.0" stroke="#1c1c1c" stroke-width="1.5" stroke-linecap="round"/>
<line x1="315.0" y1="361.7" x2="315.0" y2="369.0" stroke="#1c1c1c" stroke-width="1.5" stroke-linecap="round"/>
<line x1="374.0" y1="397.0" x2="374.0" y2="406.0" stroke="#1c1c1c" stroke-width="1.5" stroke-linecap="round"/>
<line x1="448.3" y1="386.7" x2="460.0" y2="386.7" stroke="#1c1c1c" stroke-width="1.5" stroke-linecap="round"/>
<line x1="495.0" y1="391.7" x2="495.0" y2="403.0" stroke="#1c1c1c" stroke-width="1.5" stroke-linecap="round"/>
<line x1="539.0" y1="395.3" x2="549.0" y2="395.3" stroke="#1c1c1c" stroke-width="1.5" stroke-linecap="round"/>
<line x1="451.0" y1="408.0" x2="460.0" y2="408.0" stroke="#1c1c1c" stroke-width="1.5" stroke-linecap="round"/>
<line x1="547.5" y1="416.7" x2="547.5" y2="424.0" stroke="#1c1c1c" stroke-width="1.5" stroke-linecap="round"/>
<line x1="568.3" y1="426.7" x2="568.3" y2="434.0" stroke="#1c1c1c" stroke-width="1.5" stroke-linecap="round"/>
<line x1="493.3" y1="439.0" x2="502.5" y2="439.0" stroke="#1c1c1c" stroke-width="1.5" stroke-linecap="round"/>
<line x1="511.7" y1="460.0" x2="521.7" y2="460.0" stroke="#1c1c1c" stroke-width="1.5" stroke-linecap="round"/>
<line x1="672.5" y1="394.0" x2="678.3" y2="403.3" stroke="#1c1c1c" stroke-width="1.5" stroke-linecap="round"/>
<line x1="697.0" y1="390.8" x2="697.0" y2="400.0" stroke="#1c1c1c" stroke-width="1.5" stroke-linecap="round"/>
<line x1="725.0" y1="389.0" x2="720.0" y2="399.0" stroke="#1c1c1c" stroke-width="1.5" stroke-linecap="round"/>
<line x1="863.3" y1="400.0" x2="863.3" y2="410.8" stroke="#1c1c1c" stroke-width="1.5" stroke-linecap="round"/>
<line x1="934.2" y1="347.5" x2="934.2" y2="357.5" stroke="#1c1c1c" stroke-width="1.5" stroke-linecap="round"/>
<line x1="705.8" y1="443.3" x2="705.8" y2="452.5" stroke="#1c1c1c" stroke-width="1.5" stroke-linecap="round"/>
<line x1="730.0" y1="441.3" x2="739.0" y2="441.3" stroke="#1c1c1c" stroke-width="1.5" stroke-linecap="round"/>
<line x1="790.0" y1="440.8" x2="790.0" y2="450.8" stroke="#1c1c1c" stroke-width="1.5" stroke-linecap="round"/>
<line x1="760.8" y1="467.5" x2="760.8" y2="475.0" stroke="#1c1c1c" stroke-width="1.5" stroke-linecap="round"/>
<line x1="855.8" y1="489.0" x2="855.8" y2="500.0" stroke="#1c1c1c" stroke-width="1.5" stroke-linecap="round"/>
<line x1="576.0" y1="503.7" x2="576.0" y2="513.7" stroke="#1c1c1c" stroke-width="1.5" stroke-linecap="round"/>
<line x1="910.0" y1="520.8" x2="910.0" y2="544.0" stroke="#1c1c1c" stroke-width="1.5" stroke-linecap="round"/>
<line x1="936.3" y1="533.0" x2="936.3" y2="543.0" stroke="#1c1c1c" stroke-width="1.5" stroke-linecap="round"/>
<line x1="938.3" y1="576.0" x2="948.3" y2="576.0" stroke="#1c1c1c" stroke-width="1.5" stroke-linecap="round"/>
<line x1="910.0" y1="585.8" x2="917.5" y2="594.0" stroke="#1c1c1c" stroke-width="1.5" stroke-linecap="round"/>
<line x1="961.3" y1="607.5" x2="961.3" y2="618.3" stroke="#1c1c1c" stroke-width="1.5" stroke-linecap="round"/>
<line x1="318.7" y1="637.5" x2="318.7" y2="647.5" stroke="#1c1c1c" stroke-width="1.5" stroke-linecap="round"/>
<line x1="368.3" y1="657.5" x2="379.0" y2="657.5" stroke="#1c1c1c" stroke-width="1.5" stroke-linecap="round"/>
<line x1="792.5" y1="705.0" x2="792.5" y2="712.5" stroke="#1c1c1c" stroke-width="1.5" stroke-linecap="round"/>
<line x1="400.3" y1="742.5" x2="400.3" y2="755.0" stroke="#1c1c1c" stroke-width="1.5" stroke-linecap="round"/>
<line x1="817.5" y1="775.0" x2="817.5" y2="786.0" stroke="#1c1c1c" stroke-width="1.5" stroke-linecap="round"/>
<line x1="522.5" y1="778.8" x2="532.5" y2="778.8" stroke="#1c1c1c" stroke-width="1.5" stroke-linecap="round"/>
<line x1="646.0" y1="836.7" x2="646.0" y2="848.3" stroke="#1c1c1c" stroke-width="1.5" stroke-linecap="round"/>
<line x1="631.7" y1="881.7" x2="641.7" y2="881.7" stroke="#1c1c1c" stroke-width="1.5" stroke-linecap="round"/>
<line x1="588.3" y1="840.8" x2="588.3" y2="851.7" stroke="#666" stroke-width="1.4"/>
</g>

</g>
<defs><filter id="soft" x="0" y="0" width="100%" height="100%" filterUnits="userSpaceOnUse"><feGaussianBlur stdDeviation="0.6"/></filter></defs>
</svg>
</body>
</html>
